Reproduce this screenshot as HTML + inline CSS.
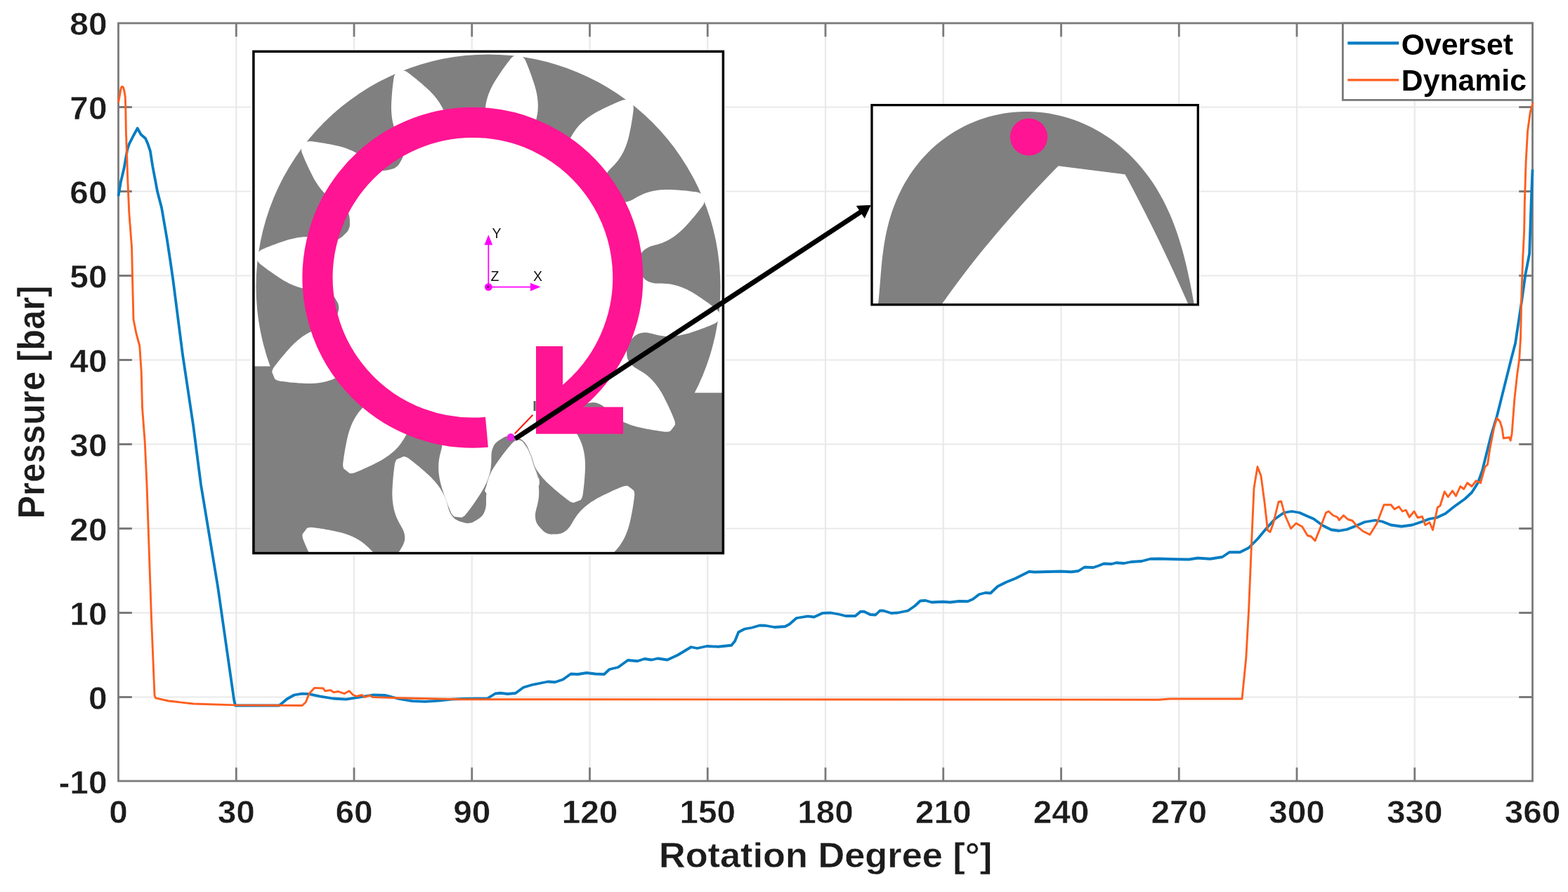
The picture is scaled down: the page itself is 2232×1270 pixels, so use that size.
<!DOCTYPE html>
<html lang="en"><head><meta charset="utf-8"><title>Pressure vs Rotation Degree</title>
<style>html,body{margin:0;padding:0;background:#fff;}body{width:2232px;height:1270px;overflow:hidden;}svg{display:block;}text{font-family:"Liberation Sans",sans-serif;font-weight:bold;}</style></head><body>
<svg width="2232" height="1270" viewBox="0 0 2232 1270">
<rect width="2232" height="1270" fill="#fff"/>
<path d="M336.25 33 V1112M504 33 V1112M671.75 33 V1112M839.5 33 V1112M1007.25 33 V1112M1175 33 V1112M1342.75 33 V1112M1510.5 33 V1112M1678.25 33 V1112M1846 33 V1112M2013.75 33 V1112M168.5 992.5 H2181.5M168.5 872.5 H2181.5M168.5 752.5 H2181.5M168.5 632.5 H2181.5M168.5 512.5 H2181.5M168.5 392.5 H2181.5M168.5 272.5 H2181.5M168.5 152.5 H2181.5" stroke="#e9e9e9" stroke-width="2.2" fill="none"/>
<path d="M336.25 1112 v-19.3M336.25 33 v19.3M504 1112 v-19.3M504 33 v19.3M671.75 1112 v-19.3M671.75 33 v19.3M839.5 1112 v-19.3M839.5 33 v19.3M1007.25 1112 v-19.3M1007.25 33 v19.3M1175 1112 v-19.3M1175 33 v19.3M1342.75 1112 v-19.3M1342.75 33 v19.3M1510.5 1112 v-19.3M1510.5 33 v19.3M1678.25 1112 v-19.3M1678.25 33 v19.3M1846 1112 v-19.3M1846 33 v19.3M2013.75 1112 v-19.3M2013.75 33 v19.3M168.5 992.5 h19.3M2181.5 992.5 h-19.3M168.5 872.5 h19.3M2181.5 872.5 h-19.3M168.5 752.5 h19.3M2181.5 752.5 h-19.3M168.5 632.5 h19.3M2181.5 632.5 h-19.3M168.5 512.5 h19.3M2181.5 512.5 h-19.3M168.5 392.5 h19.3M2181.5 392.5 h-19.3M168.5 272.5 h19.3M2181.5 272.5 h-19.3M168.5 152.5 h19.3M2181.5 152.5 h-19.3" stroke="#7a7a7a" stroke-width="2.8" fill="none"/>
<rect x="168.5" y="33" width="2013" height="1079" fill="none" stroke="#7a7a7a" stroke-width="2.8"/>
<path d="M168.5 279.3 L171.9 259 L176.5 240 L181.3 212.7 L183.8 205.2 L190 193 L195.7 182.6 L200.6 191.5 L207 197 L210.1 203.9 L213.9 215.2 L217.3 237 L221.5 259 L224 272.6 L230.1 296 L237.7 340.2 L242.5 372 L246.4 399 L260 505 L275 605 L286 690 L310 835 L333.2 997 L335 1004.5 L397.5 1004.5 L408.8 995 L418.8 989.5 L430 987.6 L440 988.2 L455 991.3 L474 994.5 L492.7 995.7 L511.5 992.6 L530.3 989.5 L549 990 L567.8 995 L586.6 998.2 L605.4 998.8 L624.2 997.6 L643 995.7 L659 995 L693.75 994.5 L705 987.5 L712.5 986.75 L722.5 988 L733.75 987 L745 978.75 L757.5 975 L770 972.5 L780 970.5 L790 971.25 L801.25 967.5 L812.5 959.5 L822.5 960 L835 958 L847.5 959.5 L860 960 L867.5 953 L880 950 L893.75 940 L907.5 941.25 L917.5 938 L927.5 939.5 L936.25 937.5 L950 939.5 L965 932.5 L977.5 925 L983.75 921.25 L992.5 923 L1006.25 920 L1022.5 920.75 L1041.25 918.75 L1046.25 912.5 L1051.25 900 L1060 895.5 L1070 893.75 L1081.25 890.5 L1090 890.75 L1102.5 893 L1117.5 892 L1123.75 888.75 L1133.75 880 L1150 877.3 L1158.75 878.5 L1171.25 872.8 L1182.5 872.5 L1193.75 874.5 L1203.75 877 L1217.5 877 L1225 870.75 L1230 870.75 L1238.75 875 L1246.25 875.5 L1252.5 869.5 L1257.5 869.5 L1268.75 873 L1277.5 872.5 L1292.5 869.5 L1302.5 862.5 L1310 855.5 L1317.5 855 L1326.25 857.5 L1342.5 856.75 L1352.5 857.5 L1365 856 L1377.5 856.25 L1385 853 L1393.75 846.25 L1402.5 844 L1410 844.5 L1420 835 L1432.5 828.75 L1445 823.75 L1465 813.75 L1472.5 814.5 L1510 813.5 L1525 814.25 L1535 813 L1543.75 807.5 L1556.25 808 L1563.75 805.5 L1571.25 802.5 L1582.5 803 L1588.75 801.25 L1600 802 L1610 800 L1625 799 L1637.5 795.75 L1650 795.5 L1675 796.25 L1692.5 796.5 L1705 794.5 L1722.5 795.75 L1740 793 L1750 786.25 L1765 786.25 L1777.5 780 L1790 767.5 L1802.5 752.5 L1815 738.75 L1827.5 730 L1838.75 728 L1850 730 L1860 734.5 L1870 738.75 L1882.5 748 L1895 754.25 L1906.25 755.75 L1917.5 753.75 L1930 748.75 L1942.5 743.25 L1957.5 740.75 L1967.5 742.5 L1980 747.5 L1995 749.5 L2010 747.5 L2025 742.5 L2035 738.75 L2045 737 L2057.5 731.25 L2070 721.25 L2085 710.5 L2095 701.25 L2103.75 687.5 L2110 670 L2116.25 645 L2122.5 620 L2130.8 592.7 L2140.8 552.6 L2150.8 512.6 L2157 489 L2165.9 430.2 L2171.5 390.1 L2177.1 361.3 L2179.6 289 L2181.5 241.4" fill="none" stroke="#007cc2" stroke-width="3.8" stroke-linejoin="round"/>
<path d="M168.5 146.3 L170.5 135 L172.3 125 L173.8 123.2 L175.5 124.5 L177 130 L178.2 137.6 L178.8 152.6 L179.4 187.7 L180.7 225.2 L181.9 259 L183.8 302.6 L187.6 352.7 L188.6 399 L190 455 L194 475 L198.75 492.5 L201.25 530 L202.5 580 L206.25 630 L209 690 L215.5 880 L220 990 L221.5 993.9 L240 998 L275.2 1002 L334 1003.9 L430 1004.5 L435.1 1000 L440.1 987.6 L447.6 979.4 L460.1 980 L462.6 983.8 L470.2 982.6 L475.2 985.7 L481.4 984.5 L490.2 987.6 L497.1 983.8 L502.7 989.5 L507.7 991.3 L515.2 989.5 L519 992.6 L526.5 990 L530.3 992.6 L567.8 993.8 L659 995.7 L1650 996.2 L1665 995 L1768 995 L1773.75 937 L1777.5 870 L1781.25 780 L1785 695 L1790 664.5 L1795 677.5 L1800 715 L1804.5 755 L1808 757.5 L1812.5 745 L1820 714.5 L1823.75 713.75 L1828.75 732.5 L1837.5 752.5 L1845 745 L1853.75 750 L1861.25 762.5 L1866.25 763.75 L1872 770 L1880 750 L1887.5 730 L1891.25 728 L1897.5 733.75 L1903.75 736.25 L1906.25 740.5 L1912.5 733.75 L1918.75 739.5 L1925 741.25 L1932.5 750 L1940 756.25 L1950 761.25 L1960 745 L1970 718.75 L1980 718.75 L1985 725 L1991.25 721.25 L1996.25 728 L2001.25 726.25 L2006.25 736.25 L2013 728 L2018 737 L2024.5 735.5 L2028.75 747.5 L2035 743.75 L2039.5 754.5 L2046.25 722.5 L2050 720 L2056.25 700 L2061.25 707.5 L2067.5 698.75 L2072.5 706.25 L2078.75 692.5 L2083.75 696.25 L2088.75 687.5 L2095 692.5 L2101.25 684.5 L2107.5 687.5 L2113.75 665 L2117.5 661.25 L2120.8 639 L2127 607.7 L2130.8 595.2 L2135.2 600.2 L2138.3 610.2 L2140.2 624 L2148.3 622.7 L2150.2 627.1 L2152.1 617.7 L2155.9 567.7 L2159.6 533.8 L2162.7 511.3 L2164.6 480 L2165.9 417.7 L2167.7 367.6 L2169.6 330 L2170.3 289 L2172.1 230.2 L2174.6 186.3 L2178.4 158.8 L2182.1 146.3" fill="none" stroke="#ff5e1e" stroke-width="2.9" stroke-linejoin="round"/>
<rect x="1911.4" y="33" width="270.1" height="109.4" fill="#fff" stroke="#7a7a7a" stroke-width="2.8"/>
<path d="M1918.3 61.3H1991.2" stroke="#007cc2" stroke-width="4.2"/>
<path d="M1918.3 113.8H1991.2" stroke="#ff5e1e" stroke-width="3.1999999999999997"/>
<text transform="translate(1994.8 78.2) scale(0.99 1)" font-size="43.2" text-anchor="start" fill="#000">Overset</text>
<text transform="translate(1994.8 129.3) scale(0.99 1)" font-size="43.2" text-anchor="start" fill="#000">Dynamic</text>
<text transform="translate(152.5 1130.1) scale(1.05 1)" font-size="45.5" text-anchor="end" fill="#1c1c1c" stroke="#fff" stroke-width="0.5">-10</text>
<text transform="translate(152.5 1010.1) scale(1.05 1)" font-size="45.5" text-anchor="end" fill="#1c1c1c" stroke="#fff" stroke-width="0.5">0</text>
<text transform="translate(152.5 890.1) scale(1.05 1)" font-size="45.5" text-anchor="end" fill="#1c1c1c" stroke="#fff" stroke-width="0.5">10</text>
<text transform="translate(152.5 770.1) scale(1.05 1)" font-size="45.5" text-anchor="end" fill="#1c1c1c" stroke="#fff" stroke-width="0.5">20</text>
<text transform="translate(152.5 650.1) scale(1.05 1)" font-size="45.5" text-anchor="end" fill="#1c1c1c" stroke="#fff" stroke-width="0.5">30</text>
<text transform="translate(152.5 530.1) scale(1.05 1)" font-size="45.5" text-anchor="end" fill="#1c1c1c" stroke="#fff" stroke-width="0.5">40</text>
<text transform="translate(152.5 410.1) scale(1.05 1)" font-size="45.5" text-anchor="end" fill="#1c1c1c" stroke="#fff" stroke-width="0.5">50</text>
<text transform="translate(152.5 290.1) scale(1.05 1)" font-size="45.5" text-anchor="end" fill="#1c1c1c" stroke="#fff" stroke-width="0.5">60</text>
<text transform="translate(152.5 170.1) scale(1.05 1)" font-size="45.5" text-anchor="end" fill="#1c1c1c" stroke="#fff" stroke-width="0.5">70</text>
<text transform="translate(152.5 50.1) scale(1.05 1)" font-size="45.5" text-anchor="end" fill="#1c1c1c" stroke="#fff" stroke-width="0.5">80</text>
<text transform="translate(168.5 1171.8) scale(1.05 1)" font-size="45.5" text-anchor="middle" fill="#1c1c1c" stroke="#fff" stroke-width="0.5">0</text>
<text transform="translate(336.25 1171.8) scale(1.05 1)" font-size="45.5" text-anchor="middle" fill="#1c1c1c" stroke="#fff" stroke-width="0.5">30</text>
<text transform="translate(504 1171.8) scale(1.05 1)" font-size="45.5" text-anchor="middle" fill="#1c1c1c" stroke="#fff" stroke-width="0.5">60</text>
<text transform="translate(671.75 1171.8) scale(1.05 1)" font-size="45.5" text-anchor="middle" fill="#1c1c1c" stroke="#fff" stroke-width="0.5">90</text>
<text transform="translate(839.5 1171.8) scale(1.05 1)" font-size="45.5" text-anchor="middle" fill="#1c1c1c" stroke="#fff" stroke-width="0.5">120</text>
<text transform="translate(1007.25 1171.8) scale(1.05 1)" font-size="45.5" text-anchor="middle" fill="#1c1c1c" stroke="#fff" stroke-width="0.5">150</text>
<text transform="translate(1175 1171.8) scale(1.05 1)" font-size="45.5" text-anchor="middle" fill="#1c1c1c" stroke="#fff" stroke-width="0.5">180</text>
<text transform="translate(1342.75 1171.8) scale(1.05 1)" font-size="45.5" text-anchor="middle" fill="#1c1c1c" stroke="#fff" stroke-width="0.5">210</text>
<text transform="translate(1510.5 1171.8) scale(1.05 1)" font-size="45.5" text-anchor="middle" fill="#1c1c1c" stroke="#fff" stroke-width="0.5">240</text>
<text transform="translate(1678.25 1171.8) scale(1.05 1)" font-size="45.5" text-anchor="middle" fill="#1c1c1c" stroke="#fff" stroke-width="0.5">270</text>
<text transform="translate(1846 1171.8) scale(1.05 1)" font-size="45.5" text-anchor="middle" fill="#1c1c1c" stroke="#fff" stroke-width="0.5">300</text>
<text transform="translate(2013.75 1171.8) scale(1.05 1)" font-size="45.5" text-anchor="middle" fill="#1c1c1c" stroke="#fff" stroke-width="0.5">330</text>
<text transform="translate(2181.5 1171.8) scale(1.05 1)" font-size="45.5" text-anchor="middle" fill="#1c1c1c" stroke="#fff" stroke-width="0.5">360</text>
<text transform="translate(1175 1235) scale(1.03 1)" font-size="50.8" text-anchor="middle" fill="#1c1c1c" stroke="#fff" stroke-width="0.4">Rotation Degree [°]</text>
<text transform="translate(63.2 572.5) rotate(-90) scale(1 1.09)" font-size="49" text-anchor="middle" fill="#1c1c1c" stroke="#fff" stroke-width="0.4">Pressure [bar]</text>
<rect x="356.9" y="70.3" width="675.5" height="720.3" fill="#fff"/>
<clipPath id="c1"><rect x="360.9" y="73.3" width="668.5" height="714.3"/></clipPath>
<g clip-path="url(#c1)">
<circle cx="695" cy="408" r="330.5" fill="#808080"/>
<path d="M355 521.5H700V559.3H1035V795H355Z" fill="#808080"/>
<path d="M666.96 195.04 L667.46 194.95 L668.15 194.85 L668.97 194.72 L669.83 194.53 L670.65 194.28 L671.42 193.95 L672.2 193.58 L673 193.14 L673.85 192.65 L674.78 192.11 L675.82 191.5 L676.97 190.83 L678.15 190.11 L679.33 189.36 L680.43 188.59 L681.47 187.78 L682.49 186.95 L683.48 186.08 L684.4 185.18 L685.23 184.24 L685.96 183.27 L686.61 182.27 L687.18 181.23 L687.71 180.15 L688.2 179.03 L688.67 177.86 L689.1 176.63 L689.48 175.37 L689.8 174.11 L690.07 172.87 L690.27 171.67 L690.4 170.51 L690.48 169.33 L690.53 168.09 L690.58 166.74 L690.61 165.27 L690.6 163.72 L690.58 162.09 L690.59 160.38 L690.65 158.58 L690.76 156.67 L690.89 154.65 L691.07 152.56 L691.3 150.45 L691.6 148.37 L691.97 146.33 L692.41 144.29 L692.9 142.24 L693.45 140.2 L694.06 138.16 L694.72 136.12 L695.44 134.08 L696.22 132.04 L697.05 130.01 L697.93 127.98 L698.86 125.95 L699.85 123.93 L700.89 121.91 L701.98 119.89 L703.1 117.89 L704.28 115.88 L705.52 113.88 L706.8 111.89 L708.11 109.91 L709.41 107.92 L710.72 105.95 L712.05 103.98 L713.39 102.02 L714.75 100.06 L716.13 98.11 L717.56 96.1 L719.06 94.03 L720.55 92.01 L721.97 90.11 L723.24 88.44 L724.35 86.99 L725.33 85.7 L726.22 84.56 L727.02 83.57 L727.75 82.72 L728.39 82.06 L728.91 81.6 L729.37 81.25 L729.81 80.95 L730.27 80.63 L730.81 80.27 L731.39 79.92 L731.94 79.61 L732.42 79.35 L732.76 79.16 L738.2 79.83 L743.64 80.59 L743.92 80.86 L744.31 81.24 L744.76 81.69 L745.23 82.17 L745.66 82.65 L746.03 83.08 L746.37 83.49 L746.72 83.94 L747.11 84.53 L747.55 85.33 L748.04 86.34 L748.56 87.5 L749.12 88.83 L749.74 90.33 L750.43 92.02 L751.23 93.96 L752.11 96.16 L753.02 98.51 L753.93 100.89 L754.8 103.2 L755.62 105.44 L756.43 107.68 L757.22 109.93 L757.99 112.17 L758.74 114.42 L759.49 116.67 L760.24 118.93 L760.96 121.18 L761.64 123.43 L762.26 125.67 L762.83 127.91 L763.36 130.13 L763.84 132.35 L764.27 134.56 L764.64 136.76 L764.97 138.95 L765.24 141.13 L765.47 143.3 L765.64 145.46 L765.75 147.6 L765.8 149.73 L765.81 151.84 L765.76 153.94 L765.65 156.03 L765.48 158.1 L765.23 160.18 L764.91 162.28 L764.54 164.34 L764.15 166.33 L763.76 168.21 L763.35 169.96 L762.92 171.61 L762.48 173.18 L762.07 174.68 L761.71 176.1 L761.41 177.43 L761.14 178.64 L760.91 179.79 L760.73 180.95 L760.61 182.15 L760.55 183.43 L760.54 184.73 L760.58 186.04 L760.68 187.34 L760.83 188.59 L761.02 189.8 L761.24 190.98 L761.53 192.13 L761.9 193.27 L762.35 194.39 L762.91 195.51 L763.57 196.62 L764.29 197.72 L765.07 198.79 L765.87 199.84 L766.73 200.87 L767.67 201.9 L768.63 202.9 L769.56 203.84 L770.41 204.7 L771.16 205.46 L771.86 206.16 L772.52 206.78 L773.17 207.35 L773.84 207.86 L774.57 208.32 L775.35 208.72 L776.1 209.06 L776.74 209.34 L777.2 209.55 L777.67 209.73 L778.32 209.98 L779.1 210.28 L779.93 210.54 L780.77 210.74 L781.6 210.84 L782.46 210.9 L783.38 210.93 L784.36 210.93 L785.44 210.92 L786.64 210.92 L787.97 210.91 L789.35 210.88 L790.74 210.82 L792.09 210.7 L793.39 210.52 L794.7 210.31 L795.98 210.05 L797.23 209.73 L798.42 209.33 L799.54 208.86 L800.6 208.31 L801.62 207.7 L802.61 207.03 L803.6 206.31 L804.59 205.53 L805.57 204.68 L806.53 203.78 L807.44 202.85 L808.3 201.9 L809.07 200.97 L809.76 200.03 L810.41 199.05 L811.08 198 L811.8 196.85 L812.56 195.59 L813.33 194.25 L814.13 192.83 L814.99 191.35 L815.94 189.82 L816.99 188.22 L818.12 186.54 L819.32 184.81 L820.57 183.11 L821.87 181.46 L823.21 179.87 L824.61 178.32 L826.06 176.8 L827.56 175.31 L829.1 173.84 L830.7 172.4 L832.34 171 L834.04 169.63 L835.77 168.28 L837.55 166.96 L839.37 165.67 L841.24 164.41 L843.15 163.18 L845.09 161.98 L847.08 160.8 L849.1 159.66 L851.17 158.55 L853.28 157.46 L855.4 156.4 L857.52 155.33 L859.64 154.28 L861.78 153.24 L863.92 152.21 L866.08 151.19 L868.24 150.19 L870.49 149.16 L872.82 148.13 L875.12 147.12 L877.3 146.18 L879.24 145.37 L880.92 144.67 L882.42 144.04 L883.76 143.5 L884.94 143.04 L886 142.68 L886.89 142.43 L887.57 142.28 L888.14 142.21 L888.67 142.17 L889.24 142.12 L889.88 142.08 L890.55 142.07 L891.19 142.08 L891.73 142.09 L892.12 142.1 L896.5 145.4 L900.83 148.78 L900.93 149.15 L901.08 149.67 L901.25 150.28 L901.42 150.94 L901.54 151.57 L901.65 152.13 L901.75 152.65 L901.82 153.22 L901.86 153.92 L901.85 154.83 L901.77 155.95 L901.63 157.22 L901.45 158.65 L901.24 160.26 L901 162.07 L900.71 164.15 L900.37 166.49 L900 168.98 L899.6 171.5 L899.19 173.93 L898.78 176.29 L898.36 178.63 L897.92 180.97 L897.46 183.3 L896.99 185.62 L896.52 187.95 L896.03 190.27 L895.53 192.59 L894.99 194.88 L894.41 197.13 L893.79 199.35 L893.13 201.54 L892.44 203.7 L891.71 205.83 L890.93 207.92 L890.12 209.98 L889.27 212.01 L888.38 214 L887.45 215.95 L886.47 217.86 L885.46 219.73 L884.4 221.57 L883.31 223.36 L882.17 225.11 L880.99 226.82 L879.73 228.5 L878.4 230.15 L877.05 231.76 L875.72 233.29 L874.44 234.71 L873.22 236.03 L872.01 237.24 L870.84 238.38 L869.74 239.47 L868.72 240.53 L867.8 241.52 L866.96 242.44 L866.18 243.32 L865.45 244.23 L864.75 245.22 L864.06 246.29 L863.4 247.42 L862.78 248.57 L862.21 249.74 L861.71 250.9 L861.27 252.04 L860.88 253.17 L860.55 254.32 L860.3 255.48 L860.13 256.69 L860.06 257.94 L860.07 259.22 L860.15 260.54 L860.28 261.85 L860.45 263.16 L860.68 264.48 L860.98 265.84 L861.31 267.19 L861.65 268.47 L861.96 269.64 L862.23 270.68 L862.48 271.63 L862.74 272.5 L863.02 273.32 L863.34 274.09 L863.75 274.85 L864.22 275.59 L864.7 276.27 L865.12 276.83 L865.41 277.24 L865.73 277.62 L866.17 278.18 L866.69 278.81 L867.28 279.46 L867.91 280.05 L868.58 280.56 L869.3 281.04 L870.07 281.52 L870.92 282.01 L871.86 282.54 L872.91 283.14 L874.06 283.8 L875.27 284.47 L876.51 285.11 L877.73 285.67 L878.95 286.17 L880.18 286.64 L881.43 287.06 L882.67 287.41 L883.9 287.66 L885.1 287.81 L886.29 287.86 L887.48 287.84 L888.68 287.76 L889.9 287.63 L891.14 287.45 L892.42 287.2 L893.7 286.9 L894.96 286.56 L896.17 286.17 L897.3 285.74 L898.37 285.27 L899.43 284.75 L900.53 284.17 L901.73 283.54 L903.01 282.83 L904.35 282.05 L905.75 281.22 L907.24 280.37 L908.83 279.52 L910.53 278.66 L912.36 277.77 L914.26 276.88 L916.2 276.02 L918.14 275.24 L920.1 274.54 L922.09 273.9 L924.1 273.3 L926.15 272.76 L928.22 272.26 L930.32 271.82 L932.44 271.42 L934.59 271.08 L936.77 270.78 L938.97 270.53 L941.19 270.32 L943.44 270.17 L945.71 270.06 L947.99 269.99 L950.3 269.96 L952.62 269.98 L954.97 270.06 L957.34 270.17 L959.71 270.3 L962.08 270.45 L964.45 270.59 L966.81 270.76 L969.19 270.94 L971.56 271.13 L973.94 271.35 L976.4 271.59 L978.93 271.85 L981.43 272.13 L983.78 272.41 L985.87 272.67 L987.68 272.91 L989.29 273.12 L990.72 273.32 L991.97 273.51 L993.08 273.73 L993.96 273.95 L994.63 274.17 L995.16 274.39 L995.64 274.62 L996.15 274.86 L996.73 275.15 L997.32 275.48 L997.87 275.8 L998.33 276.08 L998.66 276.28 L1000.8 281.33 L1002.86 286.42 L1002.77 286.79 L1002.64 287.32 L1002.48 287.94 L1002.29 288.58 L1002.09 289.2 L1001.9 289.73 L1001.72 290.23 L1001.51 290.76 L1001.19 291.39 L1000.72 292.17 L1000.09 293.1 L999.34 294.13 L998.47 295.28 L997.48 296.57 L996.36 298.01 L995.08 299.68 L993.61 301.54 L992.04 303.5 L990.44 305.48 L988.87 307.39 L987.34 309.22 L985.8 311.04 L984.25 312.84 L982.69 314.64 L981.12 316.41 L979.54 318.19 L977.96 319.96 L976.37 321.71 L974.76 323.43 L973.13 325.09 L971.48 326.69 L969.82 328.26 L968.14 329.79 L966.44 331.27 L964.72 332.69 L962.99 334.07 L961.24 335.4 L959.47 336.68 L957.69 337.9 L955.89 339.07 L954.07 340.18 L952.24 341.24 L950.4 342.25 L948.54 343.2 L946.66 344.09 L944.73 344.91 L942.76 345.68 L940.78 346.39 L938.86 347.05 L937.05 347.65 L935.33 348.17 L933.67 348.62 L932.09 349.03 L930.6 349.42 L929.18 349.83 L927.89 350.23 L926.7 350.6 L925.59 350.98 L924.5 351.4 L923.4 351.9 L922.26 352.48 L921.13 353.13 L920.01 353.82 L918.94 354.55 L917.93 355.3 L916.98 356.07 L916.07 356.86 L915.21 357.68 L914.41 358.57 L913.66 359.52 L912.98 360.57 L912.34 361.69 L911.76 362.87 L911.21 364.07 L910.71 365.29 L910.24 366.55 L909.82 367.88 L909.44 369.21 L909.09 370.49 L908.77 371.65 L908.48 372.69 L908.23 373.64 L908.02 374.53 L907.85 375.38 L907.74 376.21 L907.71 377.07 L907.75 377.94 L907.83 378.77 L907.91 379.46 L907.96 379.96 L908.05 380.46 L908.15 381.15 L908.28 381.97 L908.47 382.83 L908.72 383.65 L909.05 384.42 L909.42 385.2 L909.86 386 L910.35 386.85 L910.89 387.78 L911.5 388.82 L912.17 389.97 L912.89 391.15 L913.64 392.33 L914.41 393.43 L915.22 394.47 L916.05 395.49 L916.92 396.48 L917.82 397.4 L918.76 398.23 L919.73 398.96 L920.73 399.61 L921.77 400.18 L922.85 400.71 L923.97 401.2 L925.14 401.67 L926.37 402.1 L927.63 402.48 L928.89 402.8 L930.13 403.07 L931.33 403.27 L932.49 403.4 L933.67 403.48 L934.91 403.53 L936.26 403.58 L937.73 403.61 L939.28 403.6 L940.91 403.58 L942.62 403.59 L944.42 403.65 L946.33 403.76 L948.35 403.89 L950.44 404.07 L952.55 404.3 L954.63 404.6 L956.67 404.97 L958.71 405.41 L960.76 405.9 L962.8 406.45 L964.84 407.06 L966.88 407.72 L968.92 408.44 L970.96 409.22 L972.99 410.05 L975.02 410.93 L977.05 411.86 L979.07 412.85 L981.09 413.89 L983.11 414.98 L985.11 416.1 L987.12 417.28 L989.12 418.52 L991.11 419.8 L993.09 421.11 L995.08 422.41 L997.05 423.72 L999.02 425.05 L1000.98 426.39 L1002.94 427.75 L1004.89 429.13 L1006.9 430.56 L1008.97 432.06 L1010.99 433.55 L1012.89 434.97 L1014.56 436.24 L1016.01 437.35 L1017.3 438.33 L1018.44 439.22 L1019.43 440.02 L1020.28 440.75 L1020.94 441.39 L1021.4 441.91 L1021.75 442.37 L1022.05 442.81 L1022.37 443.27 L1022.73 443.81 L1023.08 444.39 L1023.39 444.94 L1023.65 445.42 L1023.84 445.76 L1023.17 451.2 L1022.41 456.64 L1022.14 456.92 L1021.76 457.31 L1021.31 457.76 L1020.83 458.23 L1020.35 458.66 L1019.92 459.03 L1019.51 459.37 L1019.06 459.72 L1018.47 460.11 L1017.67 460.55 L1016.66 461.04 L1015.5 461.56 L1014.17 462.12 L1012.67 462.74 L1010.98 463.43 L1009.04 464.23 L1006.84 465.11 L1004.49 466.02 L1002.11 466.93 L999.8 467.8 L997.56 468.62 L995.32 469.43 L993.07 470.22 L990.83 470.99 L988.58 471.74 L986.33 472.49 L984.07 473.24 L981.82 473.96 L979.57 474.64 L977.33 475.26 L975.09 475.83 L972.87 476.36 L970.65 476.84 L968.44 477.27 L966.24 477.64 L964.05 477.97 L961.87 478.24 L959.7 478.47 L957.54 478.64 L955.4 478.75 L953.27 478.8 L951.16 478.81 L949.06 478.76 L946.97 478.65 L944.9 478.48 L942.82 478.23 L940.72 477.91 L938.66 477.54 L936.67 477.15 L934.79 476.76 L933.04 476.35 L931.39 475.92 L929.82 475.48 L928.32 475.07 L926.9 474.71 L925.57 474.41 L924.36 474.14 L923.21 473.91 L922.05 473.73 L920.85 473.61 L919.57 473.55 L918.27 473.54 L916.96 473.58 L915.66 473.68 L914.41 473.83 L913.2 474.02 L912.02 474.24 L910.87 474.53 L909.73 474.9 L908.61 475.35 L907.49 475.91 L906.38 476.57 L905.28 477.29 L904.21 478.07 L903.16 478.87 L902.13 479.73 L901.1 480.67 L900.1 481.63 L899.16 482.56 L898.3 483.41 L897.54 484.16 L896.84 484.86 L896.22 485.52 L895.65 486.17 L895.14 486.84 L894.68 487.57 L894.28 488.35 L893.94 489.1 L893.66 489.74 L893.45 490.2 L893.27 490.67 L893.02 491.32 L892.72 492.1 L892.46 492.93 L892.26 493.77 L892.16 494.6 L892.1 495.46 L892.07 496.38 L892.07 497.36 L892.08 498.44 L892.08 499.64 L892.09 500.97 L892.12 502.35 L892.18 503.74 L892.3 505.09 L892.48 506.39 L892.69 507.7 L892.95 508.98 L893.27 510.23 L893.67 511.42 L894.14 512.54 L894.69 513.6 L895.3 514.62 L895.97 515.61 L896.69 516.6 L897.47 517.59 L898.32 518.57 L899.22 519.53 L900.15 520.44 L901.1 521.3 L902.03 522.07 L902.97 522.76 L903.95 523.41 L905 524.08 L906.15 524.8 L907.41 525.56 L908.75 526.33 L910.17 527.13 L911.65 527.99 L913.18 528.94 L914.78 529.99 L916.46 531.12 L918.19 532.32 L919.89 533.57 L921.54 534.87 L923.13 536.21 L924.68 537.61 L926.2 539.06 L927.69 540.56 L929.16 542.1 L930.6 543.7 L932 545.34 L933.37 547.04 L934.72 548.77 L936.04 550.55 L937.33 552.37 L938.59 554.24 L939.82 556.15 L941.02 558.09 L942.2 560.08 L943.34 562.1 L944.45 564.17 L945.54 566.28 L946.6 568.4 L947.67 570.52 L948.72 572.64 L949.76 574.78 L950.79 576.92 L951.81 579.08 L952.81 581.24 L953.84 583.49 L954.87 585.82 L955.88 588.12 L956.82 590.3 L957.63 592.24 L958.33 593.92 L958.96 595.42 L959.5 596.76 L959.96 597.94 L960.32 599 L960.57 599.89 L960.72 600.57 L960.79 601.14 L960.83 601.67 L960.88 602.24 L960.92 602.88 L960.93 603.55 L960.92 604.19 L960.91 604.73 L960.9 605.12 L957.6 609.5 L954.22 613.83 L953.85 613.93 L953.33 614.08 L952.72 614.25 L952.06 614.42 L951.43 614.54 L950.87 614.65 L950.35 614.75 L949.78 614.82 L949.08 614.86 L948.17 614.85 L947.05 614.77 L945.78 614.63 L944.35 614.45 L942.74 614.24 L940.93 614 L938.85 613.71 L936.51 613.37 L934.02 613 L931.5 612.6 L929.07 612.19 L926.71 611.78 L924.37 611.36 L922.03 610.92 L919.7 610.46 L917.38 609.99 L915.05 609.52 L912.73 609.03 L910.41 608.53 L908.12 607.99 L905.87 607.41 L903.65 606.79 L901.46 606.13 L899.3 605.44 L897.17 604.71 L895.08 603.93 L893.02 603.12 L890.99 602.27 L889 601.38 L887.05 600.45 L885.14 599.47 L883.27 598.46 L881.43 597.4 L879.64 596.31 L877.89 595.17 L876.18 593.99 L874.5 592.73 L872.85 591.4 L871.24 590.05 L869.71 588.72 L868.29 587.44 L866.97 586.22 L865.76 585.01 L864.62 583.84 L863.53 582.74 L862.47 581.72 L861.48 580.8 L860.56 579.96 L859.68 579.18 L858.77 578.45 L857.78 577.75 L856.71 577.06 L855.58 576.4 L854.43 575.78 L853.26 575.21 L852.1 574.71 L850.96 574.27 L849.83 573.88 L848.68 573.55 L847.52 573.3 L846.31 573.13 L845.06 573.06 L843.78 573.07 L842.46 573.15 L841.15 573.28 L839.84 573.45 L838.52 573.68 L837.16 573.98 L835.81 574.31 L834.53 574.65 L833.36 574.96 L832.32 575.23 L831.37 575.48 L830.5 575.74 L829.68 576.02 L828.91 576.34 L828.15 576.75 L827.41 577.22 L826.73 577.7 L826.17 578.12 L825.76 578.41 L825.38 578.73 L824.82 579.17 L824.19 579.69 L823.54 580.28 L822.95 580.91 L822.44 581.58 L821.96 582.3 L821.48 583.07 L820.99 583.92 L820.46 584.86 L819.86 585.91 L819.2 587.06 L818.53 588.27 L817.89 589.51 L817.33 590.73 L816.83 591.95 L816.36 593.18 L815.94 594.43 L815.59 595.67 L815.34 596.9 L815.19 598.1 L815.14 599.29 L815.16 600.48 L815.24 601.68 L815.37 602.9 L815.55 604.14 L815.8 605.42 L816.1 606.7 L816.44 607.96 L816.83 609.17 L817.26 610.3 L817.73 611.37 L818.25 612.43 L818.83 613.53 L819.46 614.73 L820.17 616.01 L820.95 617.35 L821.78 618.75 L822.63 620.24 L823.48 621.83 L824.34 623.53 L825.23 625.36 L826.12 627.26 L826.98 629.2 L827.76 631.14 L828.46 633.1 L829.1 635.09 L829.7 637.1 L830.24 639.15 L830.74 641.22 L831.18 643.32 L831.58 645.44 L831.92 647.59 L832.22 649.77 L832.47 651.97 L832.68 654.19 L832.83 656.44 L832.94 658.71 L833.01 660.99 L833.04 663.3 L833.02 665.62 L832.94 667.97 L832.83 670.34 L832.7 672.71 L832.55 675.08 L832.41 677.45 L832.24 679.81 L832.06 682.19 L831.87 684.56 L831.65 686.94 L831.41 689.4 L831.15 691.93 L830.87 694.43 L830.59 696.78 L830.33 698.87 L830.09 700.68 L829.88 702.29 L829.68 703.72 L829.49 704.97 L829.27 706.08 L829.05 706.96 L828.83 707.63 L828.61 708.16 L828.38 708.64 L828.14 709.15 L827.85 709.73 L827.52 710.32 L827.2 710.87 L826.92 711.33 L826.72 711.66 L821.67 713.8 L816.58 715.86 L816.21 715.77 L815.68 715.64 L815.06 715.48 L814.42 715.29 L813.8 715.09 L813.27 714.9 L812.77 714.72 L812.24 714.51 L811.61 714.19 L810.83 713.72 L809.9 713.09 L808.87 712.34 L807.72 711.47 L806.43 710.48 L804.99 709.36 L803.32 708.08 L801.46 706.61 L799.5 705.04 L797.52 703.44 L795.61 701.87 L793.78 700.34 L791.96 698.8 L790.16 697.25 L788.36 695.69 L786.59 694.12 L784.81 692.54 L783.04 690.96 L781.29 689.37 L779.57 687.76 L777.91 686.13 L776.31 684.48 L774.74 682.82 L773.21 681.14 L771.73 679.44 L770.31 677.72 L768.93 675.99 L767.6 674.24 L766.32 672.47 L765.1 670.69 L763.93 668.89 L762.82 667.07 L761.76 665.24 L760.75 663.4 L759.8 661.54 L758.91 659.66 L758.09 657.73 L757.32 655.76 L756.61 653.78 L755.95 651.86 L755.35 650.05 L754.83 648.33 L754.38 646.67 L753.97 645.09 L753.58 643.6 L753.17 642.18 L752.77 640.89 L752.4 639.7 L752.02 638.59 L751.6 637.5 L751.1 636.4 L750.52 635.26 L749.87 634.13 L749.18 633.01 L748.45 631.94 L747.7 630.93 L746.93 629.98 L746.14 629.07 L745.32 628.21 L744.43 627.41 L743.48 626.66 L742.43 625.98 L741.31 625.34 L740.13 624.76 L738.93 624.21 L737.71 623.71 L736.45 623.24 L735.12 622.82 L733.79 622.44 L732.51 622.09 L731.35 621.77 L730.31 621.48 L729.36 621.23 L728.47 621.02 L727.62 620.85 L726.79 620.74 L725.93 620.71 L725.06 620.75 L724.23 620.83 L723.54 620.91 L723.04 620.96 L722.54 621.05 L721.85 621.15 L721.03 621.28 L720.17 621.47 L719.35 621.72 L718.58 622.05 L717.8 622.42 L717 622.86 L716.15 623.35 L715.22 623.89 L714.18 624.5 L713.03 625.17 L711.85 625.89 L710.67 626.64 L709.57 627.41 L708.53 628.22 L707.51 629.05 L706.52 629.92 L705.6 630.82 L704.77 631.76 L704.04 632.73 L703.39 633.73 L702.82 634.77 L702.29 635.85 L701.8 636.97 L701.33 638.14 L700.9 639.37 L700.52 640.63 L700.2 641.89 L699.93 643.13 L699.73 644.33 L699.6 645.49 L699.52 646.67 L699.47 647.91 L699.42 649.26 L699.39 650.73 L699.4 652.28 L699.42 653.91 L699.41 655.62 L699.35 657.42 L699.24 659.33 L699.11 661.35 L698.93 663.44 L698.7 665.55 L698.4 667.63 L698.03 669.67 L697.59 671.71 L697.1 673.76 L696.55 675.8 L695.94 677.84 L695.28 679.88 L694.56 681.92 L693.78 683.96 L692.95 685.99 L692.07 688.02 L691.14 690.05 L690.15 692.07 L689.11 694.09 L688.02 696.11 L686.9 698.11 L685.72 700.12 L684.48 702.12 L683.2 704.11 L681.89 706.09 L680.59 708.08 L679.28 710.05 L677.95 712.02 L676.61 713.98 L675.25 715.94 L673.87 717.89 L672.44 719.9 L670.94 721.97 L669.45 723.99 L668.03 725.89 L666.76 727.56 L665.65 729.01 L664.67 730.3 L663.78 731.44 L662.98 732.43 L662.25 733.28 L661.61 733.94 L661.09 734.4 L660.63 734.75 L660.19 735.05 L659.73 735.37 L659.19 735.73 L658.61 736.08 L658.06 736.39 L657.58 736.65 L657.24 736.84 L651.8 736.17 L646.36 735.41 L646.08 735.14 L645.69 734.76 L645.24 734.31 L644.77 733.83 L644.34 733.35 L643.97 732.92 L643.63 732.51 L643.28 732.06 L642.89 731.47 L642.45 730.67 L641.96 729.66 L641.44 728.5 L640.88 727.17 L640.26 725.67 L639.57 723.98 L638.77 722.04 L637.89 719.84 L636.98 717.49 L636.07 715.11 L635.2 712.8 L634.38 710.56 L633.57 708.32 L632.78 706.07 L632.01 703.83 L631.26 701.58 L630.51 699.33 L629.76 697.07 L629.04 694.82 L628.36 692.57 L627.74 690.33 L627.17 688.09 L626.64 685.87 L626.16 683.65 L625.73 681.44 L625.36 679.24 L625.03 677.05 L624.76 674.87 L624.53 672.7 L624.36 670.54 L624.25 668.4 L624.2 666.27 L624.19 664.16 L624.24 662.06 L624.35 659.97 L624.52 657.9 L624.77 655.82 L625.09 653.72 L625.46 651.66 L625.85 649.67 L626.24 647.79 L626.65 646.04 L627.08 644.39 L627.52 642.82 L627.93 641.32 L628.29 639.9 L628.59 638.57 L628.86 637.36 L629.09 636.21 L629.27 635.05 L629.39 633.85 L629.45 632.57 L629.46 631.27 L629.42 629.96 L629.32 628.66 L629.17 627.41 L628.98 626.2 L628.76 625.02 L628.47 623.87 L628.1 622.73 L627.65 621.61 L627.09 620.49 L626.43 619.38 L625.71 618.28 L624.93 617.21 L624.13 616.16 L623.27 615.13 L622.33 614.1 L621.37 613.1 L620.44 612.16 L619.59 611.3 L618.84 610.54 L618.14 609.84 L617.48 609.22 L616.83 608.65 L616.16 608.14 L615.43 607.68 L614.65 607.28 L613.9 606.94 L613.26 606.66 L612.8 606.45 L612.33 606.27 L611.68 606.02 L610.9 605.72 L610.07 605.46 L609.23 605.26 L608.4 605.16 L607.54 605.1 L606.62 605.07 L605.64 605.07 L604.56 605.08 L603.36 605.08 L602.03 605.09 L600.65 605.12 L599.26 605.18 L597.91 605.3 L596.61 605.48 L595.3 605.69 L594.02 605.95 L592.77 606.27 L591.58 606.67 L590.46 607.14 L589.4 607.69 L588.38 608.3 L587.39 608.97 L586.4 609.69 L585.41 610.47 L584.43 611.32 L583.47 612.22 L582.56 613.15 L581.7 614.1 L580.93 615.03 L580.24 615.97 L579.59 616.95 L578.92 618 L578.2 619.15 L577.44 620.41 L576.67 621.75 L575.87 623.17 L575.01 624.65 L574.06 626.18 L573.01 627.78 L571.88 629.46 L570.68 631.19 L569.43 632.89 L568.13 634.54 L566.79 636.13 L565.39 637.68 L563.94 639.2 L562.44 640.69 L560.9 642.16 L559.3 643.6 L557.66 645 L555.96 646.37 L554.23 647.72 L552.45 649.04 L550.63 650.33 L548.76 651.59 L546.85 652.82 L544.91 654.02 L542.92 655.2 L540.9 656.34 L538.83 657.45 L536.72 658.54 L534.6 659.6 L532.48 660.67 L530.36 661.72 L528.22 662.76 L526.08 663.79 L523.92 664.81 L521.76 665.81 L519.51 666.84 L517.18 667.87 L514.88 668.88 L512.7 669.82 L510.76 670.63 L509.08 671.33 L507.58 671.96 L506.24 672.5 L505.06 672.96 L504 673.32 L503.11 673.57 L502.43 673.72 L501.86 673.79 L501.33 673.83 L500.76 673.88 L500.12 673.92 L499.45 673.93 L498.81 673.92 L498.27 673.91 L497.88 673.9 L493.5 670.6 L489.17 667.22 L489.07 666.85 L488.92 666.33 L488.75 665.72 L488.58 665.06 L488.46 664.43 L488.35 663.87 L488.25 663.35 L488.18 662.78 L488.14 662.08 L488.15 661.17 L488.23 660.05 L488.37 658.78 L488.55 657.35 L488.76 655.74 L489 653.93 L489.29 651.85 L489.63 649.51 L490 647.02 L490.4 644.5 L490.81 642.07 L491.22 639.71 L491.64 637.37 L492.08 635.03 L492.54 632.7 L493.01 630.38 L493.48 628.05 L493.97 625.73 L494.47 623.41 L495.01 621.12 L495.59 618.87 L496.21 616.65 L496.87 614.46 L497.56 612.3 L498.29 610.17 L499.07 608.08 L499.88 606.02 L500.73 603.99 L501.62 602 L502.55 600.05 L503.53 598.14 L504.54 596.27 L505.6 594.43 L506.69 592.64 L507.83 590.89 L509.01 589.18 L510.27 587.5 L511.6 585.85 L512.95 584.24 L514.28 582.71 L515.56 581.29 L516.78 579.97 L517.99 578.76 L519.16 577.62 L520.26 576.53 L521.28 575.47 L522.2 574.48 L523.04 573.56 L523.82 572.68 L524.55 571.77 L525.25 570.78 L525.94 569.71 L526.6 568.58 L527.22 567.43 L527.79 566.26 L528.29 565.1 L528.73 563.96 L529.12 562.83 L529.45 561.68 L529.7 560.52 L529.87 559.31 L529.94 558.06 L529.93 556.78 L529.85 555.46 L529.72 554.15 L529.55 552.84 L529.32 551.52 L529.02 550.16 L528.69 548.81 L528.35 547.53 L528.04 546.36 L527.77 545.32 L527.52 544.37 L527.26 543.5 L526.98 542.68 L526.66 541.91 L526.25 541.15 L525.78 540.41 L525.3 539.73 L524.88 539.17 L524.59 538.76 L524.27 538.38 L523.83 537.82 L523.31 537.19 L522.72 536.54 L522.09 535.95 L521.42 535.44 L520.7 534.96 L519.93 534.48 L519.08 533.99 L518.14 533.46 L517.09 532.86 L515.94 532.2 L514.73 531.53 L513.49 530.89 L512.27 530.33 L511.05 529.83 L509.82 529.36 L508.57 528.94 L507.33 528.59 L506.1 528.34 L504.9 528.19 L503.71 528.14 L502.52 528.16 L501.32 528.24 L500.1 528.37 L498.86 528.55 L497.58 528.8 L496.3 529.1 L495.04 529.44 L493.83 529.83 L492.7 530.26 L491.63 530.73 L490.57 531.25 L489.47 531.83 L488.27 532.46 L486.99 533.17 L485.65 533.95 L484.25 534.78 L482.76 535.63 L481.17 536.48 L479.47 537.34 L477.64 538.23 L475.74 539.12 L473.8 539.98 L471.86 540.76 L469.9 541.46 L467.91 542.1 L465.9 542.7 L463.85 543.24 L461.78 543.74 L459.68 544.18 L457.56 544.58 L455.41 544.92 L453.23 545.22 L451.03 545.47 L448.81 545.68 L446.56 545.83 L444.29 545.94 L442.01 546.01 L439.7 546.04 L437.38 546.02 L435.03 545.94 L432.66 545.83 L430.29 545.7 L427.92 545.55 L425.55 545.41 L423.19 545.24 L420.81 545.06 L418.44 544.87 L416.06 544.65 L413.6 544.41 L411.07 544.15 L408.57 543.87 L406.22 543.59 L404.13 543.33 L402.32 543.09 L400.71 542.88 L399.28 542.68 L398.03 542.49 L396.92 542.27 L396.04 542.05 L395.37 541.83 L394.84 541.61 L394.36 541.38 L393.85 541.14 L393.27 540.85 L392.68 540.52 L392.13 540.2 L391.67 539.92 L391.34 539.72 L389.2 534.67 L387.14 529.58 L387.23 529.21 L387.36 528.68 L387.52 528.06 L387.71 527.42 L387.91 526.8 L388.1 526.27 L388.28 525.77 L388.49 525.24 L388.81 524.61 L389.28 523.83 L389.91 522.9 L390.66 521.87 L391.53 520.72 L392.52 519.43 L393.64 517.99 L394.92 516.32 L396.39 514.46 L397.96 512.5 L399.56 510.52 L401.13 508.61 L402.66 506.78 L404.2 504.96 L405.75 503.16 L407.31 501.36 L408.88 499.59 L410.46 497.81 L412.04 496.04 L413.63 494.29 L415.24 492.57 L416.87 490.91 L418.52 489.31 L420.18 487.74 L421.86 486.21 L423.56 484.73 L425.28 483.31 L427.01 481.93 L428.76 480.6 L430.53 479.32 L432.31 478.1 L434.11 476.93 L435.93 475.82 L437.76 474.76 L439.6 473.75 L441.46 472.8 L443.34 471.91 L445.27 471.09 L447.24 470.32 L449.22 469.61 L451.14 468.95 L452.95 468.35 L454.67 467.83 L456.33 467.38 L457.91 466.97 L459.4 466.58 L460.82 466.17 L462.11 465.77 L463.3 465.4 L464.41 465.02 L465.5 464.6 L466.6 464.1 L467.74 463.52 L468.87 462.87 L469.99 462.18 L471.06 461.45 L472.07 460.7 L473.02 459.93 L473.93 459.14 L474.79 458.32 L475.59 457.43 L476.34 456.48 L477.02 455.43 L477.66 454.31 L478.24 453.13 L478.79 451.93 L479.29 450.71 L479.76 449.45 L480.18 448.12 L480.56 446.79 L480.91 445.51 L481.23 444.35 L481.52 443.31 L481.77 442.36 L481.98 441.47 L482.15 440.62 L482.26 439.79 L482.29 438.93 L482.25 438.06 L482.17 437.23 L482.09 436.54 L482.04 436.04 L481.95 435.54 L481.85 434.85 L481.72 434.03 L481.53 433.17 L481.28 432.35 L480.95 431.58 L480.58 430.8 L480.14 430 L479.65 429.15 L479.11 428.22 L478.5 427.18 L477.83 426.03 L477.11 424.85 L476.36 423.67 L475.59 422.57 L474.78 421.53 L473.95 420.51 L473.08 419.52 L472.18 418.6 L471.24 417.77 L470.27 417.04 L469.27 416.39 L468.23 415.82 L467.15 415.29 L466.03 414.8 L464.86 414.33 L463.63 413.9 L462.37 413.52 L461.11 413.2 L459.87 412.93 L458.67 412.73 L457.51 412.6 L456.33 412.52 L455.09 412.47 L453.74 412.42 L452.27 412.39 L450.72 412.4 L449.09 412.42 L447.38 412.41 L445.58 412.35 L443.67 412.24 L441.65 412.11 L439.56 411.93 L437.45 411.7 L435.37 411.4 L433.33 411.03 L431.29 410.59 L429.24 410.1 L427.2 409.55 L425.16 408.94 L423.12 408.28 L421.08 407.56 L419.04 406.78 L417.01 405.95 L414.98 405.07 L412.95 404.14 L410.93 403.15 L408.91 402.11 L406.89 401.02 L404.89 399.9 L402.88 398.72 L400.88 397.48 L398.89 396.2 L396.91 394.89 L394.92 393.59 L392.95 392.28 L390.98 390.95 L389.02 389.61 L387.06 388.25 L385.11 386.87 L383.1 385.44 L381.03 383.94 L379.01 382.45 L377.11 381.03 L375.44 379.76 L373.99 378.65 L372.7 377.67 L371.56 376.78 L370.57 375.98 L369.72 375.25 L369.06 374.61 L368.6 374.09 L368.25 373.63 L367.95 373.19 L367.63 372.73 L367.27 372.19 L366.92 371.61 L366.61 371.06 L366.35 370.58 L366.16 370.24 L366.83 364.8 L367.59 359.36 L367.86 359.08 L368.24 358.69 L368.69 358.24 L369.17 357.77 L369.65 357.34 L370.08 356.97 L370.49 356.63 L370.94 356.28 L371.53 355.89 L372.33 355.45 L373.34 354.96 L374.5 354.44 L375.83 353.88 L377.33 353.26 L379.02 352.57 L380.96 351.77 L383.16 350.89 L385.51 349.98 L387.89 349.07 L390.2 348.2 L392.44 347.38 L394.68 346.57 L396.93 345.78 L399.17 345.01 L401.42 344.26 L403.67 343.51 L405.93 342.76 L408.18 342.04 L410.43 341.36 L412.67 340.74 L414.91 340.17 L417.13 339.64 L419.35 339.16 L421.56 338.73 L423.76 338.36 L425.95 338.03 L428.13 337.76 L430.3 337.53 L432.46 337.36 L434.6 337.25 L436.73 337.2 L438.84 337.19 L440.94 337.24 L443.03 337.35 L445.1 337.52 L447.18 337.77 L449.28 338.09 L451.34 338.46 L453.33 338.85 L455.21 339.24 L456.96 339.65 L458.61 340.08 L460.18 340.52 L461.68 340.93 L463.1 341.29 L464.43 341.59 L465.64 341.86 L466.79 342.09 L467.95 342.27 L469.15 342.39 L470.43 342.45 L471.73 342.46 L473.04 342.42 L474.34 342.32 L475.59 342.17 L476.8 341.98 L477.98 341.76 L479.13 341.47 L480.27 341.1 L481.39 340.65 L482.51 340.09 L483.62 339.43 L484.72 338.71 L485.79 337.93 L486.84 337.13 L487.87 336.27 L488.9 335.33 L489.9 334.37 L490.84 333.44 L491.7 332.59 L492.46 331.84 L493.16 331.14 L493.78 330.48 L494.35 329.83 L494.86 329.16 L495.32 328.43 L495.72 327.65 L496.06 326.9 L496.34 326.26 L496.55 325.8 L496.73 325.33 L496.98 324.68 L497.28 323.9 L497.54 323.07 L497.74 322.23 L497.84 321.4 L497.9 320.54 L497.93 319.62 L497.93 318.64 L497.92 317.56 L497.92 316.36 L497.91 315.03 L497.88 313.65 L497.82 312.26 L497.7 310.91 L497.52 309.61 L497.31 308.3 L497.05 307.02 L496.73 305.77 L496.33 304.58 L495.86 303.46 L495.31 302.4 L494.7 301.38 L494.03 300.39 L493.31 299.4 L492.53 298.41 L491.68 297.43 L490.78 296.47 L489.85 295.56 L488.9 294.7 L487.97 293.93 L487.03 293.24 L486.05 292.59 L485 291.92 L483.85 291.2 L482.59 290.44 L481.25 289.67 L479.83 288.87 L478.35 288.01 L476.82 287.06 L475.22 286.01 L473.54 284.88 L471.81 283.68 L470.11 282.43 L468.46 281.13 L466.87 279.79 L465.32 278.39 L463.8 276.94 L462.31 275.44 L460.84 273.9 L459.4 272.3 L458 270.66 L456.63 268.96 L455.28 267.23 L453.96 265.45 L452.67 263.63 L451.41 261.76 L450.18 259.85 L448.98 257.91 L447.8 255.92 L446.66 253.9 L445.55 251.83 L444.46 249.72 L443.4 247.6 L442.33 245.48 L441.28 243.36 L440.24 241.22 L439.21 239.08 L438.19 236.92 L437.19 234.76 L436.16 232.51 L435.13 230.18 L434.12 227.88 L433.18 225.7 L432.37 223.76 L431.67 222.08 L431.04 220.58 L430.5 219.24 L430.04 218.06 L429.68 217 L429.43 216.11 L429.28 215.43 L429.21 214.86 L429.17 214.33 L429.12 213.76 L429.08 213.12 L429.07 212.45 L429.08 211.81 L429.09 211.27 L429.1 210.88 L432.4 206.5 L435.78 202.17 L436.15 202.07 L436.67 201.92 L437.28 201.75 L437.94 201.58 L438.57 201.46 L439.13 201.35 L439.65 201.25 L440.22 201.18 L440.92 201.14 L441.83 201.15 L442.95 201.23 L444.22 201.37 L445.65 201.55 L447.26 201.76 L449.07 202 L451.15 202.29 L453.49 202.63 L455.98 203 L458.5 203.4 L460.93 203.81 L463.29 204.22 L465.63 204.64 L467.97 205.08 L470.3 205.54 L472.62 206.01 L474.95 206.48 L477.27 206.97 L479.59 207.47 L481.88 208.01 L484.13 208.59 L486.35 209.21 L488.54 209.87 L490.7 210.56 L492.83 211.29 L494.92 212.07 L496.98 212.88 L499.01 213.73 L501 214.62 L502.95 215.55 L504.86 216.53 L506.73 217.54 L508.57 218.6 L510.36 219.69 L512.11 220.83 L513.82 222.01 L515.5 223.27 L517.15 224.6 L518.76 225.95 L520.29 227.28 L521.71 228.56 L523.03 229.78 L524.24 230.99 L525.38 232.16 L526.47 233.26 L527.53 234.28 L528.52 235.2 L529.44 236.04 L530.32 236.82 L531.23 237.55 L532.22 238.25 L533.29 238.94 L534.42 239.6 L535.57 240.22 L536.74 240.79 L537.9 241.29 L539.04 241.73 L540.17 242.12 L541.32 242.45 L542.48 242.7 L543.69 242.87 L544.94 242.94 L546.22 242.93 L547.54 242.85 L548.85 242.72 L550.16 242.55 L551.48 242.32 L552.84 242.02 L554.19 241.69 L555.47 241.35 L556.64 241.04 L557.68 240.77 L558.63 240.52 L559.5 240.26 L560.32 239.98 L561.09 239.66 L561.85 239.25 L562.59 238.78 L563.27 238.3 L563.83 237.88 L564.24 237.59 L564.62 237.27 L565.18 236.83 L565.81 236.31 L566.46 235.72 L567.05 235.09 L567.56 234.42 L568.04 233.7 L568.52 232.93 L569.01 232.08 L569.54 231.14 L570.14 230.09 L570.8 228.94 L571.47 227.73 L572.11 226.49 L572.67 225.27 L573.17 224.05 L573.64 222.82 L574.06 221.57 L574.41 220.33 L574.66 219.1 L574.81 217.9 L574.86 216.71 L574.84 215.52 L574.76 214.32 L574.63 213.1 L574.45 211.86 L574.2 210.58 L573.9 209.3 L573.56 208.04 L573.17 206.83 L572.74 205.7 L572.27 204.63 L571.75 203.57 L571.17 202.47 L570.54 201.27 L569.83 199.99 L569.05 198.65 L568.22 197.25 L567.37 195.76 L566.52 194.17 L565.66 192.47 L564.77 190.64 L563.88 188.74 L563.02 186.8 L562.24 184.86 L561.54 182.9 L560.9 180.91 L560.3 178.9 L559.76 176.85 L559.26 174.78 L558.82 172.68 L558.42 170.56 L558.08 168.41 L557.78 166.23 L557.53 164.03 L557.32 161.81 L557.17 159.56 L557.06 157.29 L556.99 155.01 L556.96 152.7 L556.98 150.38 L557.06 148.03 L557.17 145.66 L557.3 143.29 L557.45 140.92 L557.59 138.55 L557.76 136.19 L557.94 133.81 L558.13 131.44 L558.35 129.06 L558.59 126.6 L558.85 124.07 L559.13 121.57 L559.41 119.22 L559.67 117.13 L559.91 115.32 L560.12 113.71 L560.32 112.28 L560.51 111.03 L560.73 109.92 L560.95 109.04 L561.17 108.37 L561.39 107.84 L561.62 107.36 L561.86 106.85 L562.15 106.27 L562.48 105.68 L562.8 105.13 L563.08 104.67 L563.28 104.34 L568.33 102.2 L573.42 100.14 L573.79 100.23 L574.32 100.36 L574.94 100.52 L575.58 100.71 L576.2 100.91 L576.73 101.1 L577.23 101.28 L577.76 101.49 L578.39 101.81 L579.17 102.28 L580.1 102.91 L581.13 103.66 L582.28 104.53 L583.57 105.52 L585.01 106.64 L586.68 107.92 L588.54 109.39 L590.5 110.96 L592.48 112.56 L594.39 114.13 L596.22 115.66 L598.04 117.2 L599.84 118.75 L601.64 120.31 L603.41 121.88 L605.19 123.46 L606.96 125.04 L608.71 126.63 L610.43 128.24 L612.09 129.87 L613.69 131.52 L615.26 133.18 L616.79 134.86 L618.27 136.56 L619.69 138.28 L621.07 140.01 L622.4 141.76 L623.68 143.53 L624.9 145.31 L626.07 147.11 L627.18 148.93 L628.24 150.76 L629.25 152.6 L630.2 154.46 L631.09 156.34 L631.91 158.27 L632.68 160.24 L633.39 162.22 L634.05 164.14 L634.65 165.95 L635.17 167.67 L635.62 169.33 L636.03 170.91 L636.42 172.4 L636.83 173.82 L637.23 175.11 L637.6 176.3 L637.98 177.41 L638.4 178.5 L638.9 179.6 L639.48 180.74 L640.13 181.87 L640.82 182.99 L641.55 184.06 L642.3 185.07 L643.07 186.02 L643.86 186.93 L644.68 187.79 L645.57 188.59 L646.52 189.34 L647.57 190.02 L648.69 190.66 L649.87 191.24 L651.07 191.79 L652.29 192.29 L653.55 192.76 L654.88 193.18 L656.21 193.56 L657.49 193.91 L658.65 194.23 L659.69 194.52 L660.64 194.77 L661.53 194.98 L662.38 195.15 L663.21 195.26 L664.07 195.29 L664.94 195.25 L665.77 195.17 L666.46 195.09Z" fill="#fff"/>
<path d="M668.36 744.74 L668.86 744.65 L669.55 744.55 L670.37 744.42 L671.23 744.23 L672.05 743.98 L672.82 743.65 L673.6 743.28 L674.4 742.84 L675.25 742.35 L676.18 741.81 L677.22 741.2 L678.37 740.53 L679.55 739.81 L680.73 739.06 L681.83 738.29 L682.87 737.48 L683.89 736.65 L684.88 735.78 L685.8 734.88 L686.63 733.94 L687.36 732.97 L688.01 731.97 L688.58 730.93 L689.11 729.85 L689.6 728.73 L690.07 727.56 L690.5 726.33 L690.88 725.07 L691.2 723.81 L691.47 722.57 L691.67 721.37 L691.8 720.21 L691.88 719.03 L691.93 717.79 L691.98 716.44 L692.01 714.97 L692 713.42 L691.98 711.79 L691.99 710.08 L692.05 708.28 L692.16 706.37 L692.29 704.35 L692.47 702.26 L692.7 700.15 L693 698.07 L693.37 696.03 L693.81 693.99 L694.3 691.94 L694.85 689.9 L695.46 687.86 L696.12 685.82 L696.84 683.78 L697.62 681.74 L698.45 679.71 L699.33 677.68 L700.26 675.65 L701.25 673.63 L702.29 671.61 L703.38 669.59 L704.5 667.59 L705.68 665.58 L706.92 663.58 L708.2 661.59 L709.51 659.61 L710.81 657.62 L712.12 655.65 L713.45 653.68 L714.79 651.72 L716.15 649.76 L717.53 647.81 L718.96 645.8 L720.46 643.73 L721.95 641.71 L723.37 639.81 L724.64 638.14 L725.75 636.69 L726.73 635.4 L727.62 634.26 L728.42 633.27 L729.15 632.42 L729.79 631.76 L730.31 631.3 L730.77 630.95 L731.21 630.65 L731.67 630.33 L732.21 629.97 L732.79 629.62 L733.34 629.31 L733.82 629.05 L734.16 628.86 L739.6 629.53 L745.04 630.29 L745.32 630.56 L745.71 630.94 L746.16 631.39 L746.63 631.87 L747.06 632.35 L747.43 632.78 L747.77 633.19 L748.12 633.64 L748.51 634.23 L748.95 635.03 L749.44 636.04 L749.96 637.2 L750.52 638.53 L751.14 640.03 L751.83 641.72 L752.63 643.66 L753.51 645.86 L754.42 648.21 L755.33 650.59 L756.2 652.9 L757.02 655.14 L757.83 657.38 L758.62 659.63 L759.39 661.87 L760.14 664.12 L760.89 666.37 L761.64 668.63 L762.36 670.88 L763.04 673.13 L763.66 675.37 L764.23 677.61 L764.76 679.83 L765.24 682.05 L765.67 684.26 L766.04 686.46 L766.37 688.65 L766.64 690.83 L766.87 693 L767.04 695.16 L767.15 697.3 L767.2 699.43 L767.21 701.54 L767.16 703.64 L767.05 705.73 L766.88 707.8 L766.63 709.88 L766.31 711.98 L765.94 714.04 L765.55 716.03 L765.16 717.91 L764.75 719.66 L764.32 721.31 L763.88 722.88 L763.47 724.38 L763.11 725.8 L762.81 727.13 L762.54 728.34 L762.31 729.49 L762.13 730.65 L762.01 731.85 L761.95 733.13 L761.94 734.43 L761.98 735.74 L762.08 737.04 L762.23 738.29 L762.42 739.5 L762.64 740.68 L762.93 741.83 L763.3 742.97 L763.75 744.09 L764.31 745.21 L764.97 746.32 L765.69 747.42 L766.47 748.49 L767.27 749.54 L768.13 750.57 L769.07 751.6 L770.03 752.6 L770.96 753.54 L771.81 754.4 L772.56 755.16 L773.26 755.86 L773.92 756.48 L774.57 757.05 L775.24 757.56 L775.97 758.02 L776.75 758.42 L777.5 758.76 L778.14 759.04 L778.6 759.25 L779.07 759.43 L779.72 759.68 L780.5 759.98 L781.33 760.24 L782.17 760.44 L783 760.54 L783.86 760.6 L784.78 760.63 L785.76 760.63 L786.84 760.62 L788.04 760.62 L789.37 760.61 L790.75 760.58 L792.14 760.52 L793.49 760.4 L794.79 760.22 L796.1 760.01 L797.38 759.75 L798.63 759.43 L799.82 759.03 L800.94 758.56 L802 758.01 L803.02 757.4 L804.01 756.73 L805 756.01 L805.99 755.23 L806.97 754.38 L807.93 753.48 L808.84 752.55 L809.7 751.6 L810.47 750.67 L811.16 749.73 L811.81 748.75 L812.48 747.7 L813.2 746.55 L813.96 745.29 L814.73 743.95 L815.53 742.53 L816.39 741.05 L817.34 739.52 L818.39 737.92 L819.52 736.24 L820.72 734.51 L821.97 732.81 L823.27 731.16 L824.61 729.57 L826.01 728.02 L827.46 726.5 L828.96 725.01 L830.5 723.54 L832.1 722.1 L833.74 720.7 L835.44 719.33 L837.17 717.98 L838.95 716.66 L840.77 715.37 L842.64 714.11 L844.55 712.88 L846.49 711.68 L848.48 710.5 L850.5 709.36 L852.57 708.25 L854.68 707.16 L856.8 706.1 L858.92 705.03 L861.04 703.98 L863.18 702.94 L865.32 701.91 L867.48 700.89 L869.64 699.89 L871.89 698.86 L874.22 697.83 L876.52 696.82 L878.7 695.88 L880.64 695.07 L882.32 694.37 L883.82 693.74 L885.16 693.2 L886.34 692.74 L887.4 692.38 L888.29 692.13 L888.97 691.98 L889.54 691.91 L890.07 691.87 L890.64 691.82 L891.28 691.78 L891.95 691.77 L892.59 691.78 L893.13 691.79 L893.52 691.8 L897.9 695.1 L902.23 698.48 L902.33 698.85 L902.48 699.37 L902.65 699.98 L902.82 700.64 L902.94 701.27 L903.05 701.83 L903.15 702.35 L903.22 702.92 L903.26 703.62 L903.25 704.53 L903.17 705.65 L903.03 706.92 L902.85 708.35 L902.64 709.96 L902.4 711.77 L902.11 713.85 L901.77 716.19 L901.4 718.68 L901 721.2 L900.59 723.63 L900.18 725.99 L899.76 728.33 L899.32 730.67 L898.86 733 L898.39 735.32 L897.92 737.65 L897.43 739.97 L896.93 742.29 L896.39 744.58 L895.81 746.83 L895.19 749.05 L894.53 751.24 L893.84 753.4 L893.11 755.53 L892.33 757.62 L891.52 759.68 L890.67 761.71 L889.78 763.7 L888.85 765.65 L887.87 767.56 L886.86 769.43 L885.8 771.27 L884.71 773.06 L883.57 774.81 L882.39 776.52 L881.13 778.2 L879.8 779.85 L878.45 781.46 L877.12 782.99 L875.84 784.41 L874.62 785.73 L873.41 786.94 L872.24 788.08 L871.14 789.17 L870.12 790.23 L869.2 791.22 L868.36 792.14 L867.58 793.02 L866.85 793.93 L866.15 794.92 L865.46 795.99 L864.8 797.12 L864.18 798.27 L863.61 799.44 L863.11 800.6 L862.67 801.74 L862.28 802.87 L861.95 804.02 L861.7 805.18 L861.53 806.39 L861.46 807.64 L861.47 808.92 L861.55 810.24 L861.68 811.55 L861.85 812.86 L862.08 814.18 L862.38 815.54 L862.71 816.89 L863.05 818.17 L863.36 819.34 L863.63 820.38 L863.88 821.33 L864.14 822.2 L864.42 823.02 L864.74 823.79 L865.15 824.55 L865.62 825.29 L866.1 825.97 L866.52 826.53 L866.81 826.94 L867.13 827.32 L867.57 827.88 L868.09 828.51 L868.68 829.16 L869.31 829.75 L869.98 830.26 L870.7 830.74 L871.47 831.22 L872.32 831.71 L873.26 832.24 L874.31 832.84 L875.46 833.5 L876.67 834.17 L877.91 834.81 L879.13 835.37 L880.35 835.87 L881.58 836.34 L882.83 836.76 L884.07 837.11 L885.3 837.36 L886.5 837.51 L887.69 837.56 L888.88 837.54 L890.08 837.46 L891.3 837.33 L892.54 837.15 L893.82 836.9 L895.1 836.6 L896.36 836.26 L897.57 835.87 L898.7 835.44 L899.77 834.97 L900.83 834.45 L901.93 833.87 L903.13 833.24 L904.41 832.53 L905.75 831.75 L907.15 830.92 L908.64 830.07 L910.23 829.22 L911.93 828.36 L913.76 827.47 L915.66 826.58 L917.6 825.72 L919.54 824.94 L921.5 824.24 L923.49 823.6 L925.5 823 L927.55 822.46 L929.62 821.96 L931.72 821.52 L933.84 821.12 L935.99 820.78 L938.17 820.48 L940.37 820.23 L942.59 820.02 L944.84 819.87 L947.11 819.76 L949.39 819.69 L951.7 819.66 L954.02 819.68 L956.37 819.76 L958.74 819.87 L961.11 820 L963.48 820.15 L965.85 820.29 L968.21 820.46 L970.59 820.64 L972.96 820.83 L975.34 821.05 L977.8 821.29 L980.33 821.55 L982.83 821.83 L985.18 822.11 L987.27 822.37 L989.08 822.61 L990.69 822.82 L992.12 823.02 L993.37 823.21 L994.48 823.43 L995.36 823.65 L996.03 823.87 L996.56 824.09 L997.04 824.32 L997.55 824.56 L998.13 824.85 L998.72 825.18 L999.27 825.5 L999.73 825.78 L1000.06 825.98 L1002.2 831.03 L1004.26 836.12 L1004.17 836.49 L1004.04 837.02 L1003.88 837.64 L1003.69 838.28 L1003.49 838.9 L1003.3 839.43 L1003.12 839.93 L1002.91 840.46 L1002.59 841.09 L1002.12 841.87 L1001.49 842.8 L1000.74 843.83 L999.87 844.98 L998.88 846.27 L997.76 847.71 L996.48 849.38 L995.01 851.24 L993.44 853.2 L991.84 855.18 L990.27 857.09 L988.74 858.92 L987.2 860.74 L985.65 862.54 L984.09 864.34 L982.52 866.11 L980.94 867.89 L979.36 869.66 L977.77 871.41 L976.16 873.13 L974.53 874.79 L972.88 876.39 L971.22 877.96 L969.54 879.49 L967.84 880.97 L966.12 882.39 L964.39 883.77 L962.64 885.1 L960.87 886.38 L959.09 887.6 L957.29 888.77 L955.47 889.88 L953.64 890.94 L951.8 891.95 L949.94 892.9 L948.06 893.79 L946.13 894.61 L944.16 895.38 L942.18 896.09 L940.26 896.75 L938.45 897.35 L936.73 897.87 L935.07 898.32 L933.49 898.73 L932 899.12 L930.58 899.53 L929.29 899.93 L928.1 900.3 L926.99 900.68 L925.9 901.1 L924.8 901.6 L923.66 902.18 L922.53 902.83 L921.41 903.52 L920.34 904.25 L919.33 905 L918.38 905.77 L917.47 906.56 L916.61 907.38 L915.81 908.27 L915.06 909.22 L914.38 910.27 L913.74 911.39 L913.16 912.57 L912.61 913.77 L912.11 914.99 L911.64 916.25 L911.22 917.58 L910.84 918.91 L910.49 920.19 L910.17 921.35 L909.88 922.39 L909.63 923.34 L909.42 924.23 L909.25 925.08 L909.14 925.91 L909.11 926.77 L909.15 927.64 L909.23 928.47 L909.31 929.16 L909.36 929.66 L909.45 930.16 L909.55 930.85 L909.68 931.67 L909.87 932.53 L910.12 933.35 L910.45 934.12 L910.82 934.9 L911.26 935.7 L911.75 936.55 L912.29 937.48 L912.9 938.52 L913.57 939.67 L914.29 940.85 L915.04 942.03 L915.81 943.13 L916.62 944.17 L917.45 945.19 L918.32 946.18 L919.22 947.1 L920.16 947.93 L921.13 948.66 L922.13 949.31 L923.17 949.88 L924.25 950.41 L925.37 950.9 L926.54 951.37 L927.77 951.8 L929.03 952.18 L930.29 952.5 L931.53 952.77 L932.73 952.97 L933.89 953.1 L935.07 953.18 L936.31 953.23 L937.66 953.28 L939.13 953.31 L940.68 953.3 L942.31 953.28 L944.02 953.29 L945.82 953.35 L947.73 953.46 L949.75 953.59 L951.84 953.77 L953.95 954 L956.03 954.3 L958.07 954.67 L960.11 955.11 L962.16 955.6 L964.2 956.15 L966.24 956.76 L968.28 957.42 L970.32 958.14 L972.36 958.92 L974.39 959.75 L976.42 960.63 L978.45 961.56 L980.47 962.55 L982.49 963.59 L984.51 964.68 L986.51 965.8 L988.52 966.98 L990.52 968.22 L992.51 969.5 L994.49 970.81 L996.48 972.11 L998.45 973.42 L1000.42 974.75 L1002.38 976.09 L1004.34 977.45 L1006.29 978.83 L1008.3 980.26 L1010.37 981.76 L1012.39 983.25 L1014.29 984.67 L1015.96 985.94 L1017.41 987.05 L1018.7 988.03 L1019.84 988.92 L1020.83 989.72 L1021.68 990.45 L1022.34 991.09 L1022.8 991.61 L1023.15 992.07 L1023.45 992.51 L1023.77 992.97 L1024.13 993.51 L1024.48 994.09 L1024.79 994.64 L1025.05 995.12 L1025.24 995.46 L1024.57 1000.9 L1023.81 1006.34 L1023.54 1006.62 L1023.16 1007.01 L1022.71 1007.46 L1022.23 1007.93 L1021.75 1008.36 L1021.32 1008.73 L1020.91 1009.07 L1020.46 1009.42 L1019.87 1009.81 L1019.07 1010.25 L1018.06 1010.74 L1016.9 1011.26 L1015.57 1011.82 L1014.07 1012.44 L1012.38 1013.13 L1010.44 1013.93 L1008.24 1014.81 L1005.89 1015.72 L1003.51 1016.63 L1001.2 1017.5 L998.96 1018.32 L996.72 1019.13 L994.47 1019.92 L992.23 1020.69 L989.98 1021.44 L987.73 1022.19 L985.47 1022.94 L983.22 1023.66 L980.97 1024.34 L978.73 1024.96 L976.49 1025.53 L974.27 1026.06 L972.05 1026.54 L969.84 1026.97 L967.64 1027.34 L965.45 1027.67 L963.27 1027.94 L961.1 1028.17 L958.94 1028.34 L956.8 1028.45 L954.67 1028.5 L952.56 1028.51 L950.46 1028.46 L948.37 1028.35 L946.3 1028.18 L944.22 1027.93 L942.12 1027.61 L940.06 1027.24 L938.07 1026.85 L936.19 1026.46 L934.44 1026.05 L932.79 1025.62 L931.22 1025.18 L929.72 1024.77 L928.3 1024.41 L926.97 1024.11 L925.76 1023.84 L924.61 1023.61 L923.45 1023.43 L922.25 1023.31 L920.97 1023.25 L919.67 1023.24 L918.36 1023.28 L917.06 1023.38 L915.81 1023.53 L914.6 1023.72 L913.42 1023.94 L912.27 1024.23 L911.13 1024.6 L910.01 1025.05 L908.89 1025.61 L907.78 1026.27 L906.68 1026.99 L905.61 1027.77 L904.56 1028.57 L903.53 1029.43 L902.5 1030.37 L901.5 1031.33 L900.56 1032.26 L899.7 1033.11 L898.94 1033.86 L898.24 1034.56 L897.62 1035.22 L897.05 1035.87 L896.54 1036.54 L896.08 1037.27 L895.68 1038.05 L895.34 1038.8 L895.06 1039.44 L894.85 1039.9 L894.67 1040.37 L894.42 1041.02 L894.12 1041.8 L893.86 1042.63 L893.66 1043.47 L893.56 1044.3 L893.5 1045.16 L893.47 1046.08 L893.47 1047.06 L893.48 1048.14 L893.48 1049.34 L893.49 1050.67 L893.52 1052.05 L893.58 1053.44 L893.7 1054.79 L893.88 1056.09 L894.09 1057.4 L894.35 1058.68 L894.67 1059.93 L895.07 1061.12 L895.54 1062.24 L896.09 1063.3 L896.7 1064.32 L897.37 1065.31 L898.09 1066.3 L898.87 1067.29 L899.72 1068.27 L900.62 1069.23 L901.55 1070.14 L902.5 1071 L903.43 1071.77 L904.37 1072.46 L905.35 1073.11 L906.4 1073.78 L907.55 1074.5 L908.81 1075.26 L910.15 1076.03 L911.57 1076.83 L913.05 1077.69 L914.58 1078.64 L916.18 1079.69 L917.86 1080.82 L919.59 1082.02 L921.29 1083.27 L922.94 1084.57 L924.53 1085.91 L926.08 1087.31 L927.6 1088.76 L929.09 1090.26 L930.56 1091.8 L932 1093.4 L933.4 1095.04 L934.77 1096.74 L936.12 1098.47 L937.44 1100.25 L938.73 1102.07 L939.99 1103.94 L941.22 1105.85 L942.42 1107.79 L943.6 1109.78 L944.74 1111.8 L945.85 1113.87 L946.94 1115.98 L948 1118.1 L949.07 1120.22 L950.12 1122.34 L951.16 1124.48 L952.19 1126.62 L953.21 1128.78 L954.21 1130.94 L955.24 1133.19 L956.27 1135.52 L957.28 1137.82 L958.22 1140 L959.03 1141.94 L959.73 1143.62 L960.36 1145.12 L960.9 1146.46 L961.36 1147.64 L961.72 1148.7 L961.97 1149.59 L962.12 1150.27 L962.19 1150.84 L962.23 1151.37 L962.28 1151.94 L962.32 1152.58 L962.33 1153.25 L962.32 1153.89 L962.31 1154.43 L962.3 1154.82 L959 1159.2 L955.62 1163.53 L955.25 1163.63 L954.73 1163.78 L954.12 1163.95 L953.46 1164.12 L952.83 1164.24 L952.27 1164.35 L951.75 1164.45 L951.18 1164.52 L950.48 1164.56 L949.57 1164.55 L948.45 1164.47 L947.18 1164.33 L945.75 1164.15 L944.14 1163.94 L942.33 1163.7 L940.25 1163.41 L937.91 1163.07 L935.42 1162.7 L932.9 1162.3 L930.47 1161.89 L928.11 1161.48 L925.77 1161.06 L923.43 1160.62 L921.1 1160.16 L918.78 1159.69 L916.45 1159.22 L914.13 1158.73 L911.81 1158.23 L909.52 1157.69 L907.27 1157.11 L905.05 1156.49 L902.86 1155.83 L900.7 1155.14 L898.57 1154.41 L896.48 1153.63 L894.42 1152.82 L892.39 1151.97 L890.4 1151.08 L888.45 1150.15 L886.54 1149.17 L884.67 1148.16 L882.83 1147.1 L881.04 1146.01 L879.29 1144.87 L877.58 1143.69 L875.9 1142.43 L874.25 1141.1 L872.64 1139.75 L871.11 1138.42 L869.69 1137.14 L868.37 1135.92 L867.16 1134.71 L866.02 1133.54 L864.93 1132.44 L863.87 1131.42 L862.88 1130.5 L861.96 1129.66 L861.08 1128.88 L860.17 1128.15 L859.18 1127.45 L858.11 1126.76 L856.98 1126.1 L855.83 1125.48 L854.66 1124.91 L853.5 1124.41 L852.36 1123.97 L851.23 1123.58 L850.08 1123.25 L848.92 1123 L847.71 1122.83 L846.46 1122.76 L845.18 1122.77 L843.86 1122.85 L842.55 1122.98 L841.24 1123.15 L839.92 1123.38 L838.56 1123.68 L837.21 1124.01 L835.93 1124.35 L834.76 1124.66 L833.72 1124.93 L832.77 1125.18 L831.9 1125.44 L831.08 1125.72 L830.31 1126.04 L829.55 1126.45 L828.81 1126.92 L828.13 1127.4 L827.57 1127.82 L827.16 1128.11 L826.78 1128.43 L826.22 1128.87 L825.59 1129.39 L824.94 1129.98 L824.35 1130.61 L823.84 1131.28 L823.36 1132 L822.88 1132.77 L822.39 1133.62 L821.86 1134.56 L821.26 1135.61 L820.6 1136.76 L819.93 1137.97 L819.29 1139.21 L818.73 1140.43 L818.23 1141.65 L817.76 1142.88 L817.34 1144.13 L816.99 1145.37 L816.74 1146.6 L816.59 1147.8 L816.54 1148.99 L816.56 1150.18 L816.64 1151.38 L816.77 1152.6 L816.95 1153.84 L817.2 1155.12 L817.5 1156.4 L817.84 1157.66 L818.23 1158.87 L818.66 1160 L819.13 1161.07 L819.65 1162.13 L820.23 1163.23 L820.86 1164.43 L821.57 1165.71 L822.35 1167.05 L823.18 1168.45 L824.03 1169.94 L824.88 1171.53 L825.74 1173.23 L826.63 1175.06 L827.52 1176.96 L828.38 1178.9 L829.16 1180.84 L829.86 1182.8 L830.5 1184.79 L831.1 1186.8 L831.64 1188.85 L832.14 1190.92 L832.58 1193.02 L832.98 1195.14 L833.32 1197.29 L833.62 1199.47 L833.87 1201.67 L834.08 1203.89 L834.23 1206.14 L834.34 1208.41 L834.41 1210.69 L834.44 1213 L834.42 1215.32 L834.34 1217.67 L834.23 1220.04 L834.1 1222.41 L833.95 1224.78 L833.81 1227.15 L833.64 1229.51 L833.46 1231.89 L833.27 1234.26 L833.05 1236.64 L832.81 1239.1 L832.55 1241.63 L832.27 1244.13 L831.99 1246.48 L831.73 1248.57 L831.49 1250.38 L831.28 1251.99 L831.08 1253.42 L830.89 1254.67 L830.67 1255.78 L830.45 1256.66 L830.23 1257.33 L830.01 1257.86 L829.78 1258.34 L829.54 1258.85 L829.25 1259.43 L828.92 1260.02 L828.6 1260.57 L828.32 1261.03 L828.12 1261.36 L823.07 1263.5 L817.98 1265.56 L817.61 1265.47 L817.08 1265.34 L816.46 1265.18 L815.82 1264.99 L815.2 1264.79 L814.67 1264.6 L814.17 1264.42 L813.64 1264.21 L813.01 1263.89 L812.23 1263.42 L811.3 1262.79 L810.27 1262.04 L809.12 1261.17 L807.83 1260.18 L806.39 1259.06 L804.72 1257.78 L802.86 1256.31 L800.9 1254.74 L798.92 1253.14 L797.01 1251.57 L795.18 1250.04 L793.36 1248.5 L791.56 1246.95 L789.76 1245.39 L787.99 1243.82 L786.21 1242.24 L784.44 1240.66 L782.69 1239.07 L780.97 1237.46 L779.31 1235.83 L777.71 1234.18 L776.14 1232.52 L774.61 1230.84 L773.13 1229.14 L771.71 1227.42 L770.33 1225.69 L769 1223.94 L767.72 1222.17 L766.5 1220.39 L765.33 1218.59 L764.22 1216.77 L763.16 1214.94 L762.15 1213.1 L761.2 1211.24 L760.31 1209.36 L759.49 1207.43 L758.72 1205.46 L758.01 1203.48 L757.35 1201.56 L756.75 1199.75 L756.23 1198.03 L755.78 1196.37 L755.37 1194.79 L754.98 1193.3 L754.57 1191.88 L754.17 1190.59 L753.8 1189.4 L753.42 1188.29 L753 1187.2 L752.5 1186.1 L751.92 1184.96 L751.27 1183.83 L750.58 1182.71 L749.85 1181.64 L749.1 1180.63 L748.33 1179.68 L747.54 1178.77 L746.72 1177.91 L745.83 1177.11 L744.88 1176.36 L743.83 1175.68 L742.71 1175.04 L741.53 1174.46 L740.33 1173.91 L739.11 1173.41 L737.85 1172.94 L736.52 1172.52 L735.19 1172.14 L733.91 1171.79 L732.75 1171.47 L731.71 1171.18 L730.76 1170.93 L729.87 1170.72 L729.02 1170.55 L728.19 1170.44 L727.33 1170.41 L726.46 1170.45 L725.63 1170.53 L724.94 1170.61 L724.44 1170.66 L723.94 1170.75 L723.25 1170.85 L722.43 1170.98 L721.57 1171.17 L720.75 1171.42 L719.98 1171.75 L719.2 1172.12 L718.4 1172.56 L717.55 1173.05 L716.62 1173.59 L715.58 1174.2 L714.43 1174.87 L713.25 1175.59 L712.07 1176.34 L710.97 1177.11 L709.93 1177.92 L708.91 1178.75 L707.92 1179.62 L707 1180.52 L706.17 1181.46 L705.44 1182.43 L704.79 1183.43 L704.22 1184.47 L703.69 1185.55 L703.2 1186.67 L702.73 1187.84 L702.3 1189.07 L701.92 1190.33 L701.6 1191.59 L701.33 1192.83 L701.13 1194.03 L701 1195.19 L700.92 1196.37 L700.87 1197.61 L700.82 1198.96 L700.79 1200.43 L700.8 1201.98 L700.82 1203.61 L700.81 1205.32 L700.75 1207.12 L700.64 1209.03 L700.51 1211.05 L700.33 1213.14 L700.1 1215.25 L699.8 1217.33 L699.43 1219.37 L698.99 1221.41 L698.5 1223.46 L697.95 1225.5 L697.34 1227.54 L696.68 1229.58 L695.96 1231.62 L695.18 1233.66 L694.35 1235.69 L693.47 1237.72 L692.54 1239.75 L691.55 1241.77 L690.51 1243.79 L689.42 1245.81 L688.3 1247.81 L687.12 1249.82 L685.88 1251.82 L684.6 1253.81 L683.29 1255.79 L681.99 1257.78 L680.68 1259.75 L679.35 1261.72 L678.01 1263.68 L676.65 1265.64 L675.27 1267.59 L673.84 1269.6 L672.34 1271.67 L670.85 1273.69 L669.43 1275.59 L668.16 1277.26 L667.05 1278.71 L666.07 1280 L665.18 1281.14 L664.38 1282.13 L663.65 1282.98 L663.01 1283.64 L662.49 1284.1 L662.03 1284.45 L661.59 1284.75 L661.13 1285.07 L660.59 1285.43 L660.01 1285.78 L659.46 1286.09 L658.98 1286.35 L658.64 1286.54 L653.2 1285.87 L647.76 1285.11 L647.48 1284.84 L647.09 1284.46 L646.64 1284.01 L646.17 1283.53 L645.74 1283.05 L645.37 1282.62 L645.03 1282.21 L644.68 1281.76 L644.29 1281.17 L643.85 1280.37 L643.36 1279.36 L642.84 1278.2 L642.28 1276.87 L641.66 1275.37 L640.97 1273.68 L640.17 1271.74 L639.29 1269.54 L638.38 1267.19 L637.47 1264.81 L636.6 1262.5 L635.78 1260.26 L634.97 1258.02 L634.18 1255.77 L633.41 1253.53 L632.66 1251.28 L631.91 1249.03 L631.16 1246.77 L630.44 1244.52 L629.76 1242.27 L629.14 1240.03 L628.57 1237.79 L628.04 1235.57 L627.56 1233.35 L627.13 1231.14 L626.76 1228.94 L626.43 1226.75 L626.16 1224.57 L625.93 1222.4 L625.76 1220.24 L625.65 1218.1 L625.6 1215.97 L625.59 1213.86 L625.64 1211.76 L625.75 1209.67 L625.92 1207.6 L626.17 1205.52 L626.49 1203.42 L626.86 1201.36 L627.25 1199.37 L627.64 1197.49 L628.05 1195.74 L628.48 1194.09 L628.92 1192.52 L629.33 1191.02 L629.69 1189.6 L629.99 1188.27 L630.26 1187.06 L630.49 1185.91 L630.67 1184.75 L630.79 1183.55 L630.85 1182.27 L630.86 1180.97 L630.82 1179.66 L630.72 1178.36 L630.57 1177.11 L630.38 1175.9 L630.16 1174.72 L629.87 1173.57 L629.5 1172.43 L629.05 1171.31 L628.49 1170.19 L627.83 1169.08 L627.11 1167.98 L626.33 1166.91 L625.53 1165.86 L624.67 1164.83 L623.73 1163.8 L622.77 1162.8 L621.84 1161.86 L620.99 1161 L620.24 1160.24 L619.54 1159.54 L618.88 1158.92 L618.23 1158.35 L617.56 1157.84 L616.83 1157.38 L616.05 1156.98 L615.3 1156.64 L614.66 1156.36 L614.2 1156.15 L613.73 1155.97 L613.08 1155.72 L612.3 1155.42 L611.47 1155.16 L610.63 1154.96 L609.8 1154.86 L608.94 1154.8 L608.02 1154.77 L607.04 1154.77 L605.96 1154.78 L604.76 1154.78 L603.43 1154.79 L602.05 1154.82 L600.66 1154.88 L599.31 1155 L598.01 1155.18 L596.7 1155.39 L595.42 1155.65 L594.17 1155.97 L592.98 1156.37 L591.86 1156.84 L590.8 1157.39 L589.78 1158 L588.79 1158.67 L587.8 1159.39 L586.81 1160.17 L585.83 1161.02 L584.87 1161.92 L583.96 1162.85 L583.1 1163.8 L582.33 1164.73 L581.64 1165.67 L580.99 1166.65 L580.32 1167.7 L579.6 1168.85 L578.84 1170.11 L578.07 1171.45 L577.27 1172.87 L576.41 1174.35 L575.46 1175.88 L574.41 1177.48 L573.28 1179.16 L572.08 1180.89 L570.83 1182.59 L569.53 1184.24 L568.19 1185.83 L566.79 1187.38 L565.34 1188.9 L563.84 1190.39 L562.3 1191.86 L560.7 1193.3 L559.06 1194.7 L557.36 1196.07 L555.63 1197.42 L553.85 1198.74 L552.03 1200.03 L550.16 1201.29 L548.25 1202.52 L546.31 1203.72 L544.32 1204.9 L542.3 1206.04 L540.23 1207.15 L538.12 1208.24 L536 1209.3 L533.88 1210.37 L531.76 1211.42 L529.62 1212.46 L527.48 1213.49 L525.32 1214.51 L523.16 1215.51 L520.91 1216.54 L518.58 1217.57 L516.28 1218.58 L514.1 1219.52 L512.16 1220.33 L510.48 1221.03 L508.98 1221.66 L507.64 1222.2 L506.46 1222.66 L505.4 1223.02 L504.51 1223.27 L503.83 1223.42 L503.26 1223.49 L502.73 1223.53 L502.16 1223.58 L501.52 1223.62 L500.85 1223.63 L500.21 1223.62 L499.67 1223.61 L499.28 1223.6 L494.9 1220.3 L490.57 1216.92 L490.47 1216.55 L490.32 1216.03 L490.15 1215.42 L489.98 1214.76 L489.86 1214.13 L489.75 1213.57 L489.65 1213.05 L489.58 1212.48 L489.54 1211.78 L489.55 1210.87 L489.63 1209.75 L489.77 1208.48 L489.95 1207.05 L490.16 1205.44 L490.4 1203.63 L490.69 1201.55 L491.03 1199.21 L491.4 1196.72 L491.8 1194.2 L492.21 1191.77 L492.62 1189.41 L493.04 1187.07 L493.48 1184.73 L493.94 1182.4 L494.41 1180.08 L494.88 1177.75 L495.37 1175.43 L495.87 1173.11 L496.41 1170.82 L496.99 1168.57 L497.61 1166.35 L498.27 1164.16 L498.96 1162 L499.69 1159.87 L500.47 1157.78 L501.28 1155.72 L502.13 1153.69 L503.02 1151.7 L503.95 1149.75 L504.93 1147.84 L505.94 1145.97 L507 1144.13 L508.09 1142.34 L509.23 1140.59 L510.41 1138.88 L511.67 1137.2 L513 1135.55 L514.35 1133.94 L515.68 1132.41 L516.96 1130.99 L518.18 1129.67 L519.39 1128.46 L520.56 1127.32 L521.66 1126.23 L522.68 1125.17 L523.6 1124.18 L524.44 1123.26 L525.22 1122.38 L525.95 1121.47 L526.65 1120.48 L527.34 1119.41 L528 1118.28 L528.62 1117.13 L529.19 1115.96 L529.69 1114.8 L530.13 1113.66 L530.52 1112.53 L530.85 1111.38 L531.1 1110.22 L531.27 1109.01 L531.34 1107.76 L531.33 1106.48 L531.25 1105.16 L531.12 1103.85 L530.95 1102.54 L530.72 1101.22 L530.42 1099.86 L530.09 1098.51 L529.75 1097.23 L529.44 1096.06 L529.17 1095.02 L528.92 1094.07 L528.66 1093.2 L528.38 1092.38 L528.06 1091.61 L527.65 1090.85 L527.18 1090.11 L526.7 1089.43 L526.28 1088.87 L525.99 1088.46 L525.67 1088.08 L525.23 1087.52 L524.71 1086.89 L524.12 1086.24 L523.49 1085.65 L522.82 1085.14 L522.1 1084.66 L521.33 1084.18 L520.48 1083.69 L519.54 1083.16 L518.49 1082.56 L517.34 1081.9 L516.13 1081.23 L514.89 1080.59 L513.67 1080.03 L512.45 1079.53 L511.22 1079.06 L509.97 1078.64 L508.73 1078.29 L507.5 1078.04 L506.3 1077.89 L505.11 1077.84 L503.92 1077.86 L502.72 1077.94 L501.5 1078.07 L500.26 1078.25 L498.98 1078.5 L497.7 1078.8 L496.44 1079.14 L495.23 1079.53 L494.1 1079.96 L493.03 1080.43 L491.97 1080.95 L490.87 1081.53 L489.67 1082.16 L488.39 1082.87 L487.05 1083.65 L485.65 1084.48 L484.16 1085.33 L482.57 1086.18 L480.87 1087.04 L479.04 1087.93 L477.14 1088.82 L475.2 1089.68 L473.26 1090.46 L471.3 1091.16 L469.31 1091.8 L467.3 1092.4 L465.25 1092.94 L463.18 1093.44 L461.08 1093.88 L458.96 1094.28 L456.81 1094.62 L454.63 1094.92 L452.43 1095.17 L450.21 1095.38 L447.96 1095.53 L445.69 1095.64 L443.41 1095.71 L441.1 1095.74 L438.78 1095.72 L436.43 1095.64 L434.06 1095.53 L431.69 1095.4 L429.32 1095.25 L426.95 1095.11 L424.59 1094.94 L422.21 1094.76 L419.84 1094.57 L417.46 1094.35 L415 1094.11 L412.47 1093.85 L409.97 1093.57 L407.62 1093.29 L405.53 1093.03 L403.72 1092.79 L402.11 1092.58 L400.68 1092.38 L399.43 1092.19 L398.32 1091.97 L397.44 1091.75 L396.77 1091.53 L396.24 1091.31 L395.76 1091.08 L395.25 1090.84 L394.67 1090.55 L394.08 1090.22 L393.53 1089.9 L393.07 1089.62 L392.74 1089.42 L390.6 1084.37 L388.54 1079.28 L388.63 1078.91 L388.76 1078.38 L388.92 1077.76 L389.11 1077.12 L389.31 1076.5 L389.5 1075.97 L389.68 1075.47 L389.89 1074.94 L390.21 1074.31 L390.68 1073.53 L391.31 1072.6 L392.06 1071.57 L392.93 1070.42 L393.92 1069.13 L395.04 1067.69 L396.32 1066.02 L397.79 1064.16 L399.36 1062.2 L400.96 1060.22 L402.53 1058.31 L404.06 1056.48 L405.6 1054.66 L407.15 1052.86 L408.71 1051.06 L410.28 1049.29 L411.86 1047.51 L413.44 1045.74 L415.03 1043.99 L416.64 1042.27 L418.27 1040.61 L419.92 1039.01 L421.58 1037.44 L423.26 1035.91 L424.96 1034.43 L426.68 1033.01 L428.41 1031.63 L430.16 1030.3 L431.93 1029.02 L433.71 1027.8 L435.51 1026.63 L437.33 1025.52 L439.16 1024.46 L441 1023.45 L442.86 1022.5 L444.74 1021.61 L446.67 1020.79 L448.64 1020.02 L450.62 1019.31 L452.54 1018.65 L454.35 1018.05 L456.07 1017.53 L457.73 1017.08 L459.31 1016.67 L460.8 1016.28 L462.22 1015.87 L463.51 1015.47 L464.7 1015.1 L465.81 1014.72 L466.9 1014.3 L468 1013.8 L469.14 1013.22 L470.27 1012.57 L471.39 1011.88 L472.46 1011.15 L473.47 1010.4 L474.42 1009.63 L475.33 1008.84 L476.19 1008.02 L476.99 1007.13 L477.74 1006.18 L478.42 1005.13 L479.06 1004.01 L479.64 1002.83 L480.19 1001.63 L480.69 1000.41 L481.16 999.15 L481.58 997.82 L481.96 996.49 L482.31 995.21 L482.63 994.05 L482.92 993.01 L483.17 992.06 L483.38 991.17 L483.55 990.32 L483.66 989.49 L483.69 988.63 L483.65 987.76 L483.57 986.93 L483.49 986.24 L483.44 985.74 L483.35 985.24 L483.25 984.55 L483.12 983.73 L482.93 982.87 L482.68 982.05 L482.35 981.28 L481.98 980.5 L481.54 979.7 L481.05 978.85 L480.51 977.92 L479.9 976.88 L479.23 975.73 L478.51 974.55 L477.76 973.37 L476.99 972.27 L476.18 971.23 L475.35 970.21 L474.48 969.22 L473.58 968.3 L472.64 967.47 L471.67 966.74 L470.67 966.09 L469.63 965.52 L468.55 964.99 L467.43 964.5 L466.26 964.03 L465.03 963.6 L463.77 963.22 L462.51 962.9 L461.27 962.63 L460.07 962.43 L458.91 962.3 L457.73 962.22 L456.49 962.17 L455.14 962.12 L453.67 962.09 L452.12 962.1 L450.49 962.12 L448.78 962.11 L446.98 962.05 L445.07 961.94 L443.05 961.81 L440.96 961.63 L438.85 961.4 L436.77 961.1 L434.73 960.73 L432.69 960.29 L430.64 959.8 L428.6 959.25 L426.56 958.64 L424.52 957.98 L422.48 957.26 L420.44 956.48 L418.41 955.65 L416.38 954.77 L414.35 953.84 L412.33 952.85 L410.31 951.81 L408.29 950.72 L406.29 949.6 L404.28 948.42 L402.28 947.18 L400.29 945.9 L398.31 944.59 L396.32 943.29 L394.35 941.98 L392.38 940.65 L390.42 939.31 L388.46 937.95 L386.51 936.57 L384.5 935.14 L382.43 933.64 L380.41 932.15 L378.51 930.73 L376.84 929.46 L375.39 928.35 L374.1 927.37 L372.96 926.48 L371.97 925.68 L371.12 924.95 L370.46 924.31 L370 923.79 L369.65 923.33 L369.35 922.89 L369.03 922.43 L368.67 921.89 L368.32 921.31 L368.01 920.76 L367.75 920.28 L367.56 919.94 L368.23 914.5 L368.99 909.06 L369.26 908.78 L369.64 908.39 L370.09 907.94 L370.57 907.47 L371.05 907.04 L371.48 906.67 L371.89 906.33 L372.34 905.98 L372.93 905.59 L373.73 905.15 L374.74 904.66 L375.9 904.14 L377.23 903.58 L378.73 902.96 L380.42 902.27 L382.36 901.47 L384.56 900.59 L386.91 899.68 L389.29 898.77 L391.6 897.9 L393.84 897.08 L396.08 896.27 L398.33 895.48 L400.57 894.71 L402.82 893.96 L405.07 893.21 L407.33 892.46 L409.58 891.74 L411.83 891.06 L414.07 890.44 L416.31 889.87 L418.53 889.34 L420.75 888.86 L422.96 888.43 L425.16 888.06 L427.35 887.73 L429.53 887.46 L431.7 887.23 L433.86 887.06 L436 886.95 L438.13 886.9 L440.24 886.89 L442.34 886.94 L444.43 887.05 L446.5 887.22 L448.58 887.47 L450.68 887.79 L452.74 888.16 L454.73 888.55 L456.61 888.94 L458.36 889.35 L460.01 889.78 L461.58 890.22 L463.08 890.63 L464.5 890.99 L465.83 891.29 L467.04 891.56 L468.19 891.79 L469.35 891.97 L470.55 892.09 L471.83 892.15 L473.13 892.16 L474.44 892.12 L475.74 892.02 L476.99 891.87 L478.2 891.68 L479.38 891.46 L480.53 891.17 L481.67 890.8 L482.79 890.35 L483.91 889.79 L485.02 889.13 L486.12 888.41 L487.19 887.63 L488.24 886.83 L489.27 885.97 L490.3 885.03 L491.3 884.07 L492.24 883.14 L493.1 882.29 L493.86 881.54 L494.56 880.84 L495.18 880.18 L495.75 879.53 L496.26 878.86 L496.72 878.13 L497.12 877.35 L497.46 876.6 L497.74 875.96 L497.95 875.5 L498.13 875.03 L498.38 874.38 L498.68 873.6 L498.94 872.77 L499.14 871.93 L499.24 871.1 L499.3 870.24 L499.33 869.32 L499.33 868.34 L499.32 867.26 L499.32 866.06 L499.31 864.73 L499.28 863.35 L499.22 861.96 L499.1 860.61 L498.92 859.31 L498.71 858 L498.45 856.72 L498.13 855.47 L497.73 854.28 L497.26 853.16 L496.71 852.1 L496.1 851.08 L495.43 850.09 L494.71 849.1 L493.93 848.11 L493.08 847.13 L492.18 846.17 L491.25 845.26 L490.3 844.4 L489.37 843.63 L488.43 842.94 L487.45 842.29 L486.4 841.62 L485.25 840.9 L483.99 840.14 L482.65 839.37 L481.23 838.57 L479.75 837.71 L478.22 836.76 L476.62 835.71 L474.94 834.58 L473.21 833.38 L471.51 832.13 L469.86 830.83 L468.27 829.49 L466.72 828.09 L465.2 826.64 L463.71 825.14 L462.24 823.6 L460.8 822 L459.4 820.36 L458.03 818.66 L456.68 816.93 L455.36 815.15 L454.07 813.33 L452.81 811.46 L451.58 809.55 L450.38 807.61 L449.2 805.62 L448.06 803.6 L446.95 801.53 L445.86 799.42 L444.8 797.3 L443.73 795.18 L442.68 793.06 L441.64 790.92 L440.61 788.78 L439.59 786.62 L438.59 784.46 L437.56 782.21 L436.53 779.88 L435.52 777.58 L434.58 775.4 L433.77 773.46 L433.07 771.78 L432.44 770.28 L431.9 768.94 L431.44 767.76 L431.08 766.7 L430.83 765.81 L430.68 765.13 L430.61 764.56 L430.57 764.03 L430.52 763.46 L430.48 762.82 L430.47 762.15 L430.48 761.51 L430.49 760.97 L430.5 760.58 L433.8 756.2 L437.18 751.87 L437.55 751.77 L438.07 751.62 L438.68 751.45 L439.34 751.28 L439.97 751.16 L440.53 751.05 L441.05 750.95 L441.62 750.88 L442.32 750.84 L443.23 750.85 L444.35 750.93 L445.62 751.07 L447.05 751.25 L448.66 751.46 L450.47 751.7 L452.55 751.99 L454.89 752.33 L457.38 752.7 L459.9 753.1 L462.33 753.51 L464.69 753.92 L467.03 754.34 L469.37 754.78 L471.7 755.24 L474.02 755.71 L476.35 756.18 L478.67 756.67 L480.99 757.17 L483.28 757.71 L485.53 758.29 L487.75 758.91 L489.94 759.57 L492.1 760.26 L494.23 760.99 L496.32 761.77 L498.38 762.58 L500.41 763.43 L502.4 764.32 L504.35 765.25 L506.26 766.23 L508.13 767.24 L509.97 768.3 L511.76 769.39 L513.51 770.53 L515.22 771.71 L516.9 772.97 L518.55 774.3 L520.16 775.65 L521.69 776.98 L523.11 778.26 L524.43 779.48 L525.64 780.69 L526.78 781.86 L527.87 782.96 L528.93 783.98 L529.92 784.9 L530.84 785.74 L531.72 786.52 L532.63 787.25 L533.62 787.95 L534.69 788.64 L535.82 789.3 L536.97 789.92 L538.14 790.49 L539.3 790.99 L540.44 791.43 L541.57 791.82 L542.72 792.15 L543.88 792.4 L545.09 792.57 L546.34 792.64 L547.62 792.63 L548.94 792.55 L550.25 792.42 L551.56 792.25 L552.88 792.02 L554.24 791.72 L555.59 791.39 L556.87 791.05 L558.04 790.74 L559.08 790.47 L560.03 790.22 L560.9 789.96 L561.72 789.68 L562.49 789.36 L563.25 788.95 L563.99 788.48 L564.67 788 L565.23 787.58 L565.64 787.29 L566.02 786.97 L566.58 786.53 L567.21 786.01 L567.86 785.42 L568.45 784.79 L568.96 784.12 L569.44 783.4 L569.92 782.63 L570.41 781.78 L570.94 780.84 L571.54 779.79 L572.2 778.64 L572.87 777.43 L573.51 776.19 L574.07 774.97 L574.57 773.75 L575.04 772.52 L575.46 771.27 L575.81 770.03 L576.06 768.8 L576.21 767.6 L576.26 766.41 L576.24 765.22 L576.16 764.02 L576.03 762.8 L575.85 761.56 L575.6 760.28 L575.3 759 L574.96 757.74 L574.57 756.53 L574.14 755.4 L573.67 754.33 L573.15 753.27 L572.57 752.17 L571.94 750.97 L571.23 749.69 L570.45 748.35 L569.62 746.95 L568.77 745.46 L567.92 743.87 L567.06 742.17 L566.17 740.34 L565.28 738.44 L564.42 736.5 L563.64 734.56 L562.94 732.6 L562.3 730.61 L561.7 728.6 L561.16 726.55 L560.66 724.48 L560.22 722.38 L559.82 720.26 L559.48 718.11 L559.18 715.93 L558.93 713.73 L558.72 711.51 L558.57 709.26 L558.46 706.99 L558.39 704.71 L558.36 702.4 L558.38 700.08 L558.46 697.73 L558.57 695.36 L558.7 692.99 L558.85 690.62 L558.99 688.25 L559.16 685.89 L559.34 683.51 L559.53 681.14 L559.75 678.76 L559.99 676.3 L560.25 673.77 L560.53 671.27 L560.81 668.92 L561.07 666.83 L561.31 665.02 L561.52 663.41 L561.72 661.98 L561.91 660.73 L562.13 659.62 L562.35 658.74 L562.57 658.07 L562.79 657.54 L563.02 657.06 L563.26 656.55 L563.55 655.97 L563.88 655.38 L564.2 654.83 L564.48 654.37 L564.68 654.04 L569.73 651.9 L574.82 649.84 L575.19 649.93 L575.72 650.06 L576.34 650.22 L576.98 650.41 L577.6 650.61 L578.13 650.8 L578.63 650.98 L579.16 651.19 L579.79 651.51 L580.57 651.98 L581.5 652.61 L582.53 653.36 L583.68 654.23 L584.97 655.22 L586.41 656.34 L588.08 657.62 L589.94 659.09 L591.9 660.66 L593.88 662.26 L595.79 663.83 L597.62 665.36 L599.44 666.9 L601.24 668.45 L603.04 670.01 L604.81 671.58 L606.59 673.16 L608.36 674.74 L610.11 676.33 L611.83 677.94 L613.49 679.57 L615.09 681.22 L616.66 682.88 L618.19 684.56 L619.67 686.26 L621.09 687.98 L622.47 689.71 L623.8 691.46 L625.08 693.23 L626.3 695.01 L627.47 696.81 L628.58 698.63 L629.64 700.46 L630.65 702.3 L631.6 704.16 L632.49 706.04 L633.31 707.97 L634.08 709.94 L634.79 711.92 L635.45 713.84 L636.05 715.65 L636.57 717.37 L637.02 719.03 L637.43 720.61 L637.82 722.1 L638.23 723.52 L638.63 724.81 L639 726 L639.38 727.11 L639.8 728.2 L640.3 729.3 L640.88 730.44 L641.53 731.57 L642.22 732.69 L642.95 733.76 L643.7 734.77 L644.47 735.72 L645.26 736.63 L646.08 737.49 L646.97 738.29 L647.92 739.04 L648.97 739.72 L650.09 740.36 L651.27 740.94 L652.47 741.49 L653.69 741.99 L654.95 742.46 L656.28 742.88 L657.61 743.26 L658.89 743.61 L660.05 743.93 L661.09 744.22 L662.04 744.47 L662.93 744.68 L663.78 744.85 L664.61 744.96 L665.47 744.99 L666.34 744.95 L667.17 744.87 L667.86 744.79Z" fill="#fff"/>
<path d="M737 626.3 L735.68 626.8 L733.8 627.54 L732 628.5 L730.63 629.55 L729.34 630.81 L727.7 632.6 L725.44 635.14 L722.82 638.2 L720.2 641.4 L717.66 644.69 L715.11 648.11 L712.7 651.4 L710.51 654.38 L708.46 657.22 L706.4 660.2 L704.23 663.44 L702.07 666.82 L700.1 670.2 L698.41 673.49 L696.93 676.77 L695.6 680.2 L694.37 683.9 L693.29 687.74 L692.5 691.5 L691.09 695.34 L689.96 699.09 L692 702 L698.7 704.04 L708.57 705.24 L720 705 L734.3 702.62 L750.16 698.8 L762 695 L766.97 691.82 L767.92 688.66 L767.8 685.2 L767.24 681.14 L765.62 676.78 L764 672.7 L762.73 669.27 L761.46 666.13 L760.2 662.7 L759.01 658.67 L757.83 654.37 L756.5 650.2 L754.98 646.25 L753.31 642.44 L751.5 638.9 L749.42 635.57 L747.19 632.52 L745.2 630.1 L743.49 628.53 L742.01 627.59 L741 627Z" fill="#fff"/>
<path d="M745.2 630.1L751.5 638.9L756.5 650.2L760.2 662.7L764 672.7L766.5 681" fill="none" stroke="#9a9a9a" stroke-width="1"/>
<path d="M700.1 670.2L695.6 680.2L693.5 688" fill="none" stroke="#c8c8c8" stroke-width="0.8"/>
<rect x="759.6" y="571" width="3" height="14" fill="#5a5a5a"/>
</g>
<g stroke="#ff00ff" stroke-width="1.8" fill="#ff00ff"><path d="M695.3 408.6V346" fill="none"/><path d="M695.3 408.6H757" fill="none"/><path d="M695.3 334.2l-5.8 14.6h11.6z" stroke="none"/><path d="M769.6 408.6l-14.6 -5.8v11.6z" stroke="none"/><circle cx="695.3" cy="408.6" r="5.4" stroke="none"/></g><circle cx="694.6" cy="408.4" r="1.8" fill="#7a007a"/>
<g font-size="19.5" fill="#111"><text x="700.5" y="339" style="font-weight:normal">Y</text><text x="698.5" y="400" style="font-weight:normal">Z</text><text x="759" y="400" style="font-weight:normal">X</text></g>
<path d="M692.92 615.24 A220.9 220.9 0 1 1 817.82 561.97 L795.18 581.65" fill="none" stroke="#ff1493" stroke-width="43.2"/>
<path d="M763 493.1H801.1V579.5H887V617.8H763Z" fill="#ff1493"/>
<path d="M732.7 617.6L758.4 590.7" stroke="#ff1a10" stroke-width="2.1" fill="none"/>
<circle cx="727.2" cy="622.6" r="5.5" fill="#ee22e6"/>
<path d="M733.3 624.6 L1226.54 300.81" stroke="#000" stroke-width="7.0" fill="none"/>
<path d="M1239.5 292.3 L1230.69 310.76 L1219.05 293.04 Z" fill="#000"/>
<rect x="360.9" y="73.3" width="668.5" height="714.3" fill="none" stroke="#000" stroke-width="3.5"/>
<rect x="1239" y="147.6" width="468.3" height="288.2" fill="#fff"/>
<clipPath id="c2"><rect x="1241" y="149.6" width="464.3" height="284.2"/></clipPath>
<g clip-path="url(#c2)"><path d="M1249.64 440 L1249.64 436 L1250.3 430.19 L1250.89 424.41 L1251.43 418.64 L1251.94 412.87 L1252.41 407.09 L1252.87 401.29 L1253.33 395.47 L1253.81 389.62 L1254.31 383.74 L1254.85 377.81 L1255.44 371.85 L1256.1 365.85 L1256.84 359.81 L1257.67 353.73 L1258.6 347.61 L1259.64 341.45 L1260.81 335.27 L1262.12 329.06 L1263.57 322.83 L1265.17 316.59 L1266.94 310.34 L1268.88 304.09 L1270.99 297.85 L1273.29 291.63 L1275.77 285.43 L1278.45 279.27 L1281.33 273.15 L1284.41 267.1 L1287.7 261.1 L1291.19 255.19 L1294.88 249.35 L1298.78 243.62 L1302.89 238 L1307.2 232.49 L1311.72 227.12 L1316.43 221.88 L1321.35 216.8 L1326.45 211.87 L1331.74 207.11 L1337.21 202.54 L1342.86 198.15 L1348.67 193.96 L1354.65 189.97 L1360.78 186.2 L1367.06 182.65 L1373.47 179.32 L1380.01 176.23 L1386.67 173.38 L1393.44 170.78 L1400.3 168.42 L1407.26 166.32 L1414.29 164.48 L1421.38 162.9 L1428.54 161.58 L1435.73 160.52 L1442.96 159.73 L1450.22 159.21 L1457.48 158.95 L1464.75 158.96 L1472 159.23 L1479.23 159.76 L1486.44 160.55 L1493.6 161.6 L1500.7 162.9 L1507.75 164.45 L1514.72 166.25 L1521.62 168.28 L1528.42 170.54 L1535.13 173.03 L1541.73 175.75 L1548.22 178.68 L1554.59 181.81 L1560.83 185.14 L1566.94 188.67 L1572.91 192.38 L1578.74 196.26 L1584.42 200.31 L1589.94 204.52 L1595.31 208.89 L1600.53 213.39 L1605.58 218.02 L1610.46 222.78 L1615.19 227.66 L1619.75 232.64 L1624.14 237.72 L1628.37 242.9 L1632.44 248.15 L1636.34 253.48 L1640.09 258.87 L1643.67 264.33 L1647.1 269.84 L1650.38 275.39 L1653.5 280.98 L1656.49 286.61 L1659.33 292.26 L1662.04 297.93 L1664.61 303.62 L1667.06 309.33 L1669.39 315.04 L1671.6 320.76 L1673.7 326.49 L1675.7 332.21 L1677.6 337.94 L1679.41 343.66 L1681.13 349.38 L1682.77 355.09 L1684.34 360.81 L1685.83 366.52 L1687.27 372.23 L1688.65 377.95 L1689.97 383.67 L1691.25 389.4 L1692.48 395.14 L1693.68 400.89 L1694.84 406.66 L1695.97 412.46 L1697.07 418.29 L1698.14 424.15 L1699.2 430.05 L1700.23 436 L1700.23 440 L1694.37 440 L1690.9 432.01 L1687.39 424.02 L1683.85 416.02 L1680.28 408.03 L1676.67 400.04 L1673.03 392.05 L1669.35 384.06 L1665.64 376.07 L1661.89 368.07 L1658.11 360.08 L1654.3 352.09 L1650.45 344.1 L1646.57 336.11 L1642.65 328.12 L1638.69 320.12 L1634.71 312.13 L1630.69 304.14 L1626.63 296.15 L1622.54 288.16 L1618.42 280.17 L1614.26 272.17 L1610.07 264.18 L1605.84 256.19 L1601.4 248.2 L1506.6 236.3 L1498.18 244.79 L1489.99 253.28 L1481.9 261.76 L1473.92 270.25 L1466.04 278.74 L1458.26 287.23 L1450.58 295.71 L1443.01 304.2 L1435.54 312.69 L1428.18 321.18 L1420.91 329.66 L1413.76 338.15 L1406.7 346.64 L1399.75 355.12 L1392.9 363.61 L1386.16 372.1 L1379.51 380.59 L1372.97 389.07 L1366.54 397.56 L1360.21 406.05 L1353.98 414.54 L1347.85 423.02 L1341.83 431.51 L1335.91 440 Z" fill="#808080"/>
<circle cx="1464.5" cy="195" r="26.6" fill="#ff1493"/></g>
<rect x="1241" y="149.6" width="464.3" height="284.2" fill="none" stroke="#000" stroke-width="3.3"/>
<path d="M1239.5 292.3 L1230.69 310.76 L1219.05 293.04 Z" fill="#000"/>
</svg></body></html>
